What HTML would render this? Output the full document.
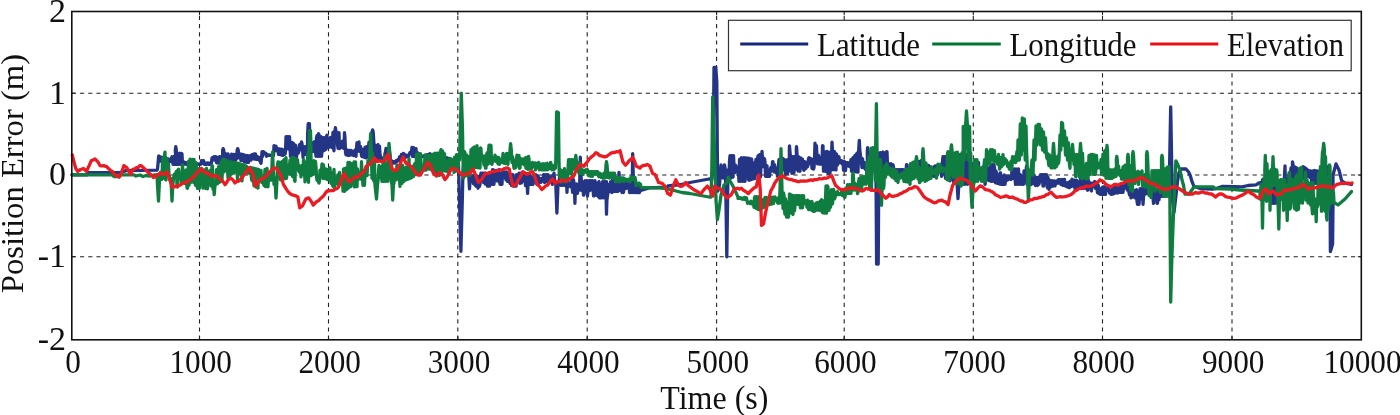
<!DOCTYPE html>
<html><head><meta charset="utf-8"><style>html,body{margin:0;padding:0;background:#fff;width:1400px;height:415px;overflow:hidden}svg{display:block}</style></head>
<body><svg width="1400" height="415" viewBox="0 0 1400 415"><rect x="0" y="0" width="1400" height="415" fill="#fff"/><g stroke="#222" stroke-width="1.1" stroke-dasharray="4.2 4" fill="none"><line x1="199.5" y1="339.8" x2="199.5" y2="11.5"/><line x1="328.5" y1="339.8" x2="328.5" y2="11.5"/><line x1="457.8" y1="339.8" x2="457.8" y2="11.5"/><line x1="587.2" y1="339.8" x2="587.2" y2="11.5"/><line x1="716.6" y1="339.8" x2="716.6" y2="11.5"/><line x1="844.2" y1="339.8" x2="844.2" y2="11.5"/><line x1="973.3" y1="339.8" x2="973.3" y2="11.5"/><line x1="1102.5" y1="339.8" x2="1102.5" y2="11.5"/><line x1="1232.0" y1="339.8" x2="1232.0" y2="11.5"/><line x1="71.8" y1="93.2" x2="1361.3" y2="93.2"/><line x1="71.8" y1="175.0" x2="1361.3" y2="175.0"/><line x1="71.8" y1="256.7" x2="1361.3" y2="256.7"/></g><g stroke="#222" stroke-width="1.1" fill="none"><line x1="199.5" y1="11.5" x2="199.5" y2="15.0"/><line x1="199.5" y1="339.8" x2="199.5" y2="336.3"/><line x1="328.5" y1="11.5" x2="328.5" y2="15.0"/><line x1="328.5" y1="339.8" x2="328.5" y2="336.3"/><line x1="457.8" y1="11.5" x2="457.8" y2="15.0"/><line x1="457.8" y1="339.8" x2="457.8" y2="336.3"/><line x1="587.2" y1="11.5" x2="587.2" y2="15.0"/><line x1="587.2" y1="339.8" x2="587.2" y2="336.3"/><line x1="716.6" y1="11.5" x2="716.6" y2="15.0"/><line x1="716.6" y1="339.8" x2="716.6" y2="336.3"/><line x1="844.2" y1="11.5" x2="844.2" y2="15.0"/><line x1="844.2" y1="339.8" x2="844.2" y2="336.3"/><line x1="973.3" y1="11.5" x2="973.3" y2="15.0"/><line x1="973.3" y1="339.8" x2="973.3" y2="336.3"/><line x1="1102.5" y1="11.5" x2="1102.5" y2="15.0"/><line x1="1102.5" y1="339.8" x2="1102.5" y2="336.3"/><line x1="1232.0" y1="11.5" x2="1232.0" y2="15.0"/><line x1="1232.0" y1="339.8" x2="1232.0" y2="336.3"/><line x1="71.8" y1="93.2" x2="75.3" y2="93.2"/><line x1="1361.3" y1="93.2" x2="1357.8" y2="93.2"/><line x1="71.8" y1="175.0" x2="75.3" y2="175.0"/><line x1="1361.3" y1="175.0" x2="1357.8" y2="175.0"/><line x1="71.8" y1="256.7" x2="75.3" y2="256.7"/><line x1="1361.3" y1="256.7" x2="1357.8" y2="256.7"/></g><g fill="none" stroke-width="3.3" stroke-linejoin="round" stroke-linecap="round"><path d="M72.0 174.8 L87.0 174.8 L88.0 172.6 L120.0 172.6 L126.0 170.6 L157.0 170.2 L157.5 169.3 L158.7 156.0 L159.0 161.4 L159.5 156.7 L160.0 156.9 L160.5 160.9 L161.0 161.1 L161.5 157.2 L162.0 159.6 L162.5 161.7 L163.0 161.8 L163.5 157.7 L164.0 159.1 L164.5 161.5 L165.0 161.1 L165.5 158.4 L166.0 158.7 L166.5 161.4 L167.0 161.7 L167.5 158.9 L168.0 159.1 L168.5 161.7 L169.0 161.4 L169.5 159.4 L170.0 159.7 L170.5 161.5 L171.0 160.7 L171.5 158.2 L172.0 156.7 L172.5 159.4 L173.0 164.3 L173.5 157.5 L174.0 156.5 L174.5 164.3 L175.0 164.3 L175.5 153.7 L175.3 150.0 L175.8 146.7 L176.3 150.0 L177.0 164.3 L177.5 155.5 L178.0 155.5 L178.5 164.3 L179.0 159.3 L179.5 153.2 L180.0 153.7 L180.5 164.3 L181.0 158.4 L181.5 153.5 L182.0 154.0 L182.5 164.3 L183.0 163.1 L183.5 161.7 L184.0 162.9 L184.5 163.7 L185.0 164.3 L185.5 162.5 L186.0 162.8 L186.5 164.3 L187.0 164.3 L187.5 163.2 L188.0 163.8 L188.5 164.3 L189.0 164.2 L189.5 163.8 L190.0 163.9 L190.5 164.2 L191.0 164.1 L191.5 163.8 L192.0 163.8 L192.5 164.0 L193.0 164.1 L193.5 163.9 L194.0 163.7 L194.5 164.1 L195.0 164.2 L195.5 163.7 L196.0 164.0 L196.5 164.2 L197.0 164.3 L197.5 164.0 L198.0 164.0 L198.5 164.3 L199.0 164.1 L199.5 164.0 L200.0 164.0 L200.5 164.3 L201.0 163.4 L201.5 160.7 L202.0 162.0 L202.5 163.4 L203.0 163.4 L203.5 160.7 L204.0 162.0 L204.5 164.3 L205.0 164.3 L205.5 163.1 L206.0 163.1 L206.5 164.3 L207.0 164.3 L207.5 162.9 L208.0 162.9 L208.5 164.3 L209.0 164.3 L209.5 163.1 L210.0 163.0 L210.5 164.3 L211.0 163.9 L211.5 162.7 L212.0 158.0 L212.5 159.9 L213.0 159.5 L213.5 157.8 L214.0 156.7 L214.5 160.1 L215.0 160.1 L215.5 156.7 L216.0 156.7 L216.5 162.7 L217.0 162.9 L217.5 158.2 L218.0 157.6 L218.5 162.3 L219.0 163.1 L219.5 156.7 L220.0 156.7 L220.5 163.1 L221.0 163.0 L221.5 157.5 L222.0 158.2 L222.5 163.3 L222.7 150.0 L223.2 148.6 L223.7 150.0 L225.0 160.6 L225.5 153.7 L226.0 156.9 L226.5 158.1 L227.0 157.5 L227.5 156.3 L228.0 153.9 L228.5 160.6 L229.0 160.6 L229.5 156.8 L230.0 156.6 L230.5 163.0 L231.0 163.0 L231.5 154.2 L232.0 154.3 L232.5 163.3 L233.0 163.1 L233.5 154.3 L234.0 154.4 L234.5 163.3 L235.0 161.9 L235.5 154.5 L236.0 155.0 L236.5 159.0 L237.2 150.0 L237.7 148.6 L238.2 150.0 L239.0 157.8 L239.5 153.7 L240.0 156.7 L240.5 157.4 L241.0 160.7 L241.5 154.2 L242.0 154.4 L242.5 160.4 L243.0 158.7 L243.5 154.7 L244.0 156.5 L244.5 162.0 L245.0 158.6 L245.5 157.0 L246.0 155.4 L246.5 162.3 L247.0 162.3 L247.5 155.7 L248.0 155.7 L248.5 162.3 L249.0 160.3 L249.5 156.0 L250.0 155.8 L250.5 160.1 L251.0 160.2 L251.5 155.9 L252.0 154.7 L252.5 158.5 L253.0 158.5 L253.5 154.2 L254.0 153.9 L254.5 159.2 L255.0 158.4 L255.5 153.8 L256.0 156.9 L256.5 159.5 L257.0 159.2 L257.5 156.6 L258.0 157.1 L258.5 159.7 L259.0 160.0 L259.5 157.5 L260.0 158.1 L260.5 162.2 L261.0 163.3 L261.5 158.7 L262.0 151.7 L262.5 156.3 L263.0 153.9 L263.5 151.7 L264.0 152.3 L264.5 153.5 L265.0 153.6 L265.5 153.2 L266.0 153.5 L266.5 156.3 L267.0 155.3 L267.5 154.7 L268.0 154.8 L268.5 155.3 L269.0 155.3 L269.5 155.0 L270.0 155.2 L270.5 155.3 L271.0 155.3 L271.5 155.3 L272.0 155.4 L272.5 155.4 L273.0 155.5 L273.5 155.5 L274.0 145.7 L274.5 149.9 L275.0 150.4 L275.5 146.1 L276.0 146.3 L276.5 150.7 L277.0 150.9 L277.5 148.4 L278.0 148.9 L278.5 154.3 L279.0 154.3 L279.5 148.9 L280.0 150.3 L280.5 154.8 L281.0 153.4 L281.5 149.1 L282.0 149.5 L282.5 155.3 L283.0 155.3 L283.5 149.8 L284.0 151.3 L284.5 153.5 L285.0 154.2 L285.5 151.4 L286.0 136.7 L286.5 148.3 L287.0 147.7 L287.5 136.7 L288.0 136.7 L288.5 149.0 L289.0 148.1 L289.5 136.7 L290.0 146.8 L290.5 156.3 L291.0 157.3 L291.5 148.3 L292.0 142.5 L292.5 157.3 L293.0 150.0 L293.5 143.4 L294.0 147.0 L294.5 157.3 L295.0 157.3 L295.5 145.1 L296.0 149.2 L296.5 157.3 L297.0 152.7 L297.5 149.7 L298.0 150.5 L298.5 153.0 L299.0 148.9 L299.5 144.7 L300.0 144.4 L300.5 149.0 L301.0 149.8 L301.5 141.9 L302.0 143.6 L302.5 147.6 L303.0 157.3 L303.5 147.4 L304.0 146.7 L304.5 154.0 L305.0 154.3 L305.5 146.7 L306.0 150.8 L306.5 153.6 L307.0 154.3 L307.5 151.5 L307.6 135.0 L308.2 123.6 L309.4 123.6 L309.8 135.0 L310.0 151.4 L310.5 148.6 L311.0 149.4 L311.5 150.6 L312.0 151.4 L312.5 142.7 L313.0 142.7 L313.5 151.4 L314.0 151.4 L314.5 141.6 L315.0 141.6 L315.5 151.4 L316.0 156.3 L316.5 137.7 L317.0 135.7 L317.5 156.3 L318.0 156.3 L318.5 133.7 L319.0 134.7 L319.5 156.3 L320.0 156.3 L320.5 139.6 L321.0 136.7 L321.5 156.3 L322.0 151.3 L322.5 137.7 L323.0 137.7 L323.5 147.1 L324.0 150.5 L324.5 137.7 L325.0 137.7 L325.5 149.8 L326.0 148.9 L326.5 136.5 L327.0 135.2 L327.5 147.5 L328.0 146.6 L328.5 139.0 L329.0 139.7 L329.5 147.2 L330.0 145.0 L330.5 137.4 L331.0 138.0 L331.5 144.9 L332.0 147.5 L332.5 142.7 L333.0 132.3 L333.5 147.5 L334.0 150.8 L334.5 132.5 L335.0 130.0 L335.4 127.7 L335.8 130.0 L338.0 148.3 L338.5 132.7 L339.0 132.7 L339.5 148.6 L340.0 147.9 L340.5 145.1 L341.0 144.0 L341.5 146.9 L342.0 147.4 L342.5 141.2 L343.0 141.1 L343.5 148.1 L344.0 148.5 L344.5 132.7 L345.0 138.2 L345.5 152.6 L346.0 154.7 L346.5 149.7 L347.0 150.1 L347.5 155.1 L348.0 155.4 L348.5 150.4 L349.0 150.7 L349.5 155.3 L350.0 154.3 L350.5 150.3 L351.0 150.4 L351.5 154.8 L352.0 154.3 L352.5 151.4 L353.0 152.0 L353.5 155.5 L354.0 154.9 L354.5 150.7 L355.0 150.1 L355.5 155.3 L356.0 156.3 L356.5 148.2 L357.0 142.7 L357.5 150.5 L358.0 151.0 L358.5 148.2 L359.0 141.9 L359.5 151.4 L360.0 150.2 L360.5 146.4 L361.0 149.7 L361.5 155.5 L362.0 156.6 L362.5 149.4 L363.0 149.8 L363.5 156.9 L364.0 157.2 L364.5 153.3 L365.0 147.3 L365.5 157.5 L366.0 157.8 L366.5 146.7 L367.0 146.7 L367.5 157.0 L368.0 156.2 L368.5 146.7 L369.0 142.3 L369.5 158.3 L370.0 159.3 L370.5 147.2 L371.0 144.0 L371.5 157.9 L372.0 132.0 L372.6 129.9 L373.2 132.0 L375.0 160.3 L375.5 146.5 L376.0 145.6 L376.5 159.5 L377.0 160.2 L377.5 146.3 L378.0 144.6 L378.5 160.6 L379.0 154.3 L379.5 146.2 L380.0 154.1 L380.5 156.9 L381.0 160.2 L381.5 159.1 L382.0 159.1 L382.5 160.0 L383.0 159.9 L383.5 157.7 L384.0 158.4 L384.5 159.6 L385.0 153.2 L385.5 151.7 L386.0 148.5 L386.5 154.9 L387.0 155.7 L387.5 149.3 L388.0 149.6 L388.5 154.1 L389.0 161.1 L389.5 151.2 L390.0 154.7 L390.5 161.8 L391.0 162.6 L391.5 160.5 L392.0 162.4 L392.5 163.3 L393.0 163.3 L393.5 161.7 L394.0 161.7 L394.5 162.7 L395.0 163.0 L395.5 161.7 L396.0 160.8 L396.5 162.1 L397.0 161.1 L397.5 160.5 L398.0 159.6 L398.5 160.2 L399.0 160.5 L399.5 156.8 L400.0 157.9 L400.5 159.8 L401.0 159.1 L401.5 154.4 L402.0 155.9 L402.5 158.3 L403.0 158.0 L403.5 153.5 L404.0 153.7 L404.5 157.7 L405.0 157.1 L405.5 155.2 L406.0 155.1 L406.5 157.0 L407.0 156.7 L407.5 155.4 L408.0 155.2 L408.5 156.3 L409.0 154.8 L409.5 153.5 L410.0 152.6 L410.5 153.0 L411.0 151.9 L411.5 151.5 L412.0 147.5 L412.5 156.3 L413.0 156.3 L413.5 147.6 L414.0 150.1 L414.5 156.3 L415.0 153.0 L415.5 150.5 L416.0 148.7 L416.5 156.3 L417.0 156.3 L417.5 152.7 L418.0 153.9 L418.5 155.1 L419.0 155.5 L419.5 154.2 L420.0 155.1 L420.5 156.3 L421.0 156.1 L421.5 155.9 L422.0 156.5 L422.5 156.5 L423.0 156.3 L423.5 156.3 L424.0 155.9 L424.5 156.3 L425.0 156.1 L425.5 155.9 L426.0 155.2 L426.5 155.9 L427.0 156.3 L427.5 154.8 L428.0 154.6 L428.5 156.3 L429.0 156.3 L429.5 154.0 L430.0 153.7 L430.5 156.3 L431.0 156.3 L431.5 154.7 L432.0 155.9 L432.5 156.3 L433.0 156.5 L433.5 156.5 L434.0 156.7 L434.5 156.7 L435.0 157.0 L435.5 156.9 L436.0 157.1 L436.5 157.2 L437.0 157.5 L437.5 157.3 L438.0 157.6 L438.5 157.8 L439.0 158.0 L439.5 157.8 L440.0 158.0 L440.5 158.1 L441.0 159.0 L441.5 158.2 L442.0 158.4 L442.5 158.8 L443.0 159.3 L443.5 158.4 L444.0 158.5 L444.5 159.4 L445.0 159.6 L445.5 158.9 L446.0 157.8 L446.5 160.0 L447.0 161.0 L447.5 158.0 L448.0 158.2 L448.5 161.3 L449.0 161.4 L449.5 159.5 L450.0 158.5 L450.5 161.5 L451.0 161.6 L451.5 159.7 L452.0 160.2 L452.5 161.9 L453.0 161.7 L453.5 160.7 L454.0 160.7 L454.5 161.6 L455.0 161.8 L455.5 159.7 L456.0 159.5 L456.5 162.0 L457.0 162.2 L457.5 159.7 L458.5 165.0 L460.9 251.3 L462.3 200.0 L463.0 170.0 L464.0 162.1 L464.5 158.2 L465.0 162.5 L465.5 166.4 L466.0 168.9 L466.5 166.7 L467.0 168.3 L467.5 174.3 L468.0 173.1 L468.5 170.2 L469.0 180.4 L469.5 188.8 L470.0 181.6 L470.5 178.1 L471.0 179.2 L471.5 181.7 L472.0 181.5 L472.5 175.3 L473.0 176.3 L473.5 183.6 L474.0 184.0 L474.5 176.7 L475.0 176.7 L475.5 185.5 L476.0 186.0 L476.5 176.1 L477.0 176.4 L477.5 186.3 L478.0 188.2 L478.5 178.3 L479.0 176.5 L479.5 186.4 L480.0 184.1 L480.5 175.6 L481.0 173.2 L481.5 178.3 L482.0 178.5 L482.5 173.2 L483.0 173.1 L483.5 182.5 L484.0 182.7 L484.5 173.1 L485.0 173.0 L485.5 184.2 L486.0 183.7 L486.5 176.1 L487.0 175.8 L487.5 186.2 L488.0 186.2 L488.5 172.8 L489.0 172.8 L489.5 186.2 L490.0 178.8 L490.5 172.7 L491.0 172.7 L491.5 178.8 L492.0 184.3 L492.5 169.7 L493.0 169.7 L493.5 184.3 L494.0 184.3 L494.5 172.5 L495.0 170.5 L495.5 176.6 L496.0 180.7 L496.5 170.5 L497.0 172.1 L497.5 181.0 L498.0 180.2 L498.5 174.2 L499.0 169.7 L499.5 181.0 L500.0 184.3 L500.5 174.6 L501.0 174.9 L501.5 184.3 L502.0 184.3 L502.5 172.6 L503.0 172.2 L503.5 177.2 L504.0 177.1 L504.5 173.8 L505.0 172.0 L505.5 177.5 L506.0 179.9 L506.5 171.9 L507.0 173.9 L507.5 181.3 L508.0 181.3 L508.5 173.8 L509.0 175.9 L509.5 181.3 L510.0 183.4 L510.5 174.7 L511.0 174.7 L511.5 185.5 L512.0 185.0 L512.5 174.7 L513.0 174.7 L513.5 184.2 L514.0 186.2 L514.5 179.1 L515.0 179.9 L515.5 186.2 L516.0 186.2 L516.5 174.7 L517.0 180.3 L517.5 180.7 L518.0 179.6 L518.5 179.3 L519.0 173.2 L519.5 179.8 L520.0 183.4 L520.5 173.2 L521.0 177.7 L521.5 182.9 L522.0 180.4 L522.5 178.5 L523.0 173.2 L523.5 180.7 L524.0 181.0 L524.5 173.2 L525.0 173.9 L525.5 185.6 L526.0 185.0 L526.5 173.3 L527.2 185.0 L527.6 193.3 L528.0 185.0 L529.0 184.3 L529.5 174.7 L530.0 176.9 L530.5 184.3 L531.0 184.3 L531.5 176.8 L532.0 177.5 L532.5 184.3 L533.0 184.3 L533.5 177.2 L534.0 176.8 L534.5 179.2 L535.0 178.6 L535.5 176.3 L536.0 174.7 L536.5 183.2 L537.0 184.3 L537.5 176.3 L538.0 175.9 L538.5 184.3 L539.0 179.9 L539.5 178.8 L540.0 178.4 L540.5 179.5 L541.0 182.3 L541.5 178.6 L542.0 179.2 L542.5 181.0 L543.0 181.0 L543.5 174.7 L544.0 174.7 L544.5 182.3 L545.0 182.3 L545.5 174.7 L546.0 174.7 L546.5 181.3 L547.0 181.3 L547.5 174.7 L548.0 174.7 L548.5 180.3 L549.0 180.4 L549.5 176.8 L550.0 178.1 L550.5 181.8 L551.0 180.9 L551.5 177.3 L552.0 176.0 L552.5 184.3 L553.0 180.2 L553.5 176.5 L554.0 173.2 L554.5 179.4 L555.8 185.0 L556.9 213.0 L558.0 185.0 L559.0 182.4 L559.5 177.7 L560.0 177.7 L560.5 182.2 L561.0 185.3 L561.5 181.4 L562.0 178.3 L562.5 185.3 L563.0 184.7 L563.5 177.7 L564.0 177.7 L564.5 185.3 L565.0 185.3 L565.5 179.2 L566.0 178.5 L566.5 181.9 L567.0 192.3 L567.5 179.7 L568.0 180.8 L568.5 186.1 L569.0 186.1 L569.5 185.0 L570.0 184.2 L570.5 186.8 L571.0 186.3 L571.5 183.7 L572.0 179.7 L572.5 192.3 L573.0 192.3 L573.5 179.7 L574.0 183.3 L574.5 192.3 L574.7 195.0 L574.9 203.3 L575.2 195.0 L576.0 192.3 L576.5 183.9 L577.0 184.8 L577.5 193.4 L578.0 188.6 L578.5 184.9 L579.0 186.4 L579.5 190.1 L580.0 170.0 L580.3 157.2 L580.7 170.0 L582.0 190.6 L582.5 186.4 L583.0 187.1 L583.5 195.2 L584.0 194.1 L584.5 181.3 L585.0 180.7 L585.5 191.6 L586.0 191.5 L586.5 180.7 L587.0 180.7 L587.5 196.2 L588.0 189.6 L588.5 188.1 L589.0 180.7 L589.5 190.7 L590.0 190.5 L590.5 180.7 L591.0 180.7 L591.5 189.4 L592.0 188.5 L592.5 180.7 L593.0 187.1 L593.5 195.8 L594.0 195.9 L594.5 187.0 L595.0 180.7 L595.5 195.1 L596.0 194.0 L596.5 182.9 L597.0 183.5 L597.5 194.7 L598.0 196.2 L598.5 183.7 L599.0 181.7 L599.5 197.9 L600.0 197.9 L600.5 184.6 L601.0 184.8 L601.5 197.9 L602.0 193.2 L602.5 181.7 L603.0 181.7 L603.5 197.9 L604.0 193.4 L604.5 181.7 L605.0 181.7 L605.5 192.5 L606.0 191.4 L606.5 181.7 L606.2 200.0 L606.5 214.1 L606.9 200.0 L608.0 192.3 L608.5 186.6 L609.0 184.3 L609.5 191.7 L610.0 186.5 L610.5 181.9 L611.0 182.7 L611.5 187.2 L612.0 192.5 L612.5 179.7 L613.0 185.0 L613.5 191.5 L614.0 190.7 L614.5 184.2 L615.0 184.9 L615.5 191.4 L616.0 191.3 L616.5 183.0 L617.0 183.1 L617.5 191.4 L618.0 191.3 L618.5 183.0 L618.8 178.0 L619.0 172.5 L619.3 178.0 L620.0 190.3 L620.5 182.0 L621.0 179.7 L621.5 190.2 L622.0 192.5 L622.5 179.7 L623.0 182.2 L623.5 192.5 L624.0 185.3 L624.5 182.0 L625.0 183.0 L625.5 188.7 L626.0 186.0 L626.5 179.7 L627.0 179.7 L627.5 186.9 L628.0 188.3 L628.5 179.7 L629.0 179.7 L629.5 192.5 L630.0 192.5 L630.5 181.4 L631.0 181.4 L631.5 189.4 L632.0 192.5 L632.5 181.4 L632.4 170.0 L632.7 153.6 L633.1 170.0 L634.0 192.5 L634.5 188.4 L635.0 188.3 L635.5 192.5 L636.0 192.5 L636.5 188.3 L637.0 187.5 L637.5 192.5 L638.0 192.5 L638.5 187.1 L639.0 187.2 L639.5 192.5 L640.0 190.6 L649.0 187.9 L660.0 187.5 L667.0 187.5 L668.0 186.0 L682.0 184.3 L690.0 182.5 L709.0 179.0 L712.0 178.9 L713.2 160.0 L714.0 67.5 L715.8 67.5 L716.8 82.0 L717.3 150.0 L717.8 191.0 L719.5 185.0 L721.0 165.0 L723.0 178.0 L724.5 165.0 L725.5 170.0 L726.8 256.8 L728.0 170.0 L729.0 175.0 L729.5 161.2 L730.0 155.7 L730.5 173.6 L731.0 178.0 L731.5 155.7 L732.0 155.7 L732.5 177.0 L733.0 177.1 L733.5 155.7 L734.0 165.0 L734.5 172.7 L735.0 172.7 L735.5 165.1 L736.0 166.8 L736.5 171.5 L737.0 171.9 L737.5 167.3 L738.0 169.4 L738.5 174.1 L739.0 181.3 L739.5 159.5 L740.0 159.1 L740.5 181.3 L741.0 178.3 L741.5 157.7 L742.0 165.0 L742.5 181.3 L743.0 181.3 L743.5 165.5 L744.0 157.7 L744.5 181.3 L745.0 181.3 L745.5 169.3 L746.0 157.8 L746.5 175.1 L747.0 174.9 L747.5 158.1 L748.0 158.2 L748.5 179.8 L749.0 180.2 L749.5 158.5 L750.0 158.7 L750.5 179.8 L751.0 179.5 L751.5 158.8 L752.0 162.6 L752.5 179.2 L753.0 176.9 L753.5 163.2 L754.0 163.3 L754.5 178.7 L755.0 178.3 L755.5 163.3 L756.0 159.3 L756.5 169.3 L757.0 173.7 L757.5 159.1 L758.0 155.9 L758.5 173.7 L759.0 174.8 L759.5 154.7 L760.0 154.7 L760.5 176.8 L761.0 166.5 L761.5 157.8 L761.8 155.0 L762.0 151.3 L762.3 155.0 L764.0 166.9 L764.5 158.7 L765.0 162.2 L765.5 176.3 L766.0 176.3 L766.5 167.1 L767.0 165.7 L767.5 176.3 L768.0 176.3 L768.5 170.3 L769.0 170.6 L769.5 176.3 L770.0 172.0 L770.5 168.7 L771.0 167.5 L771.5 170.8 L772.0 170.5 L772.5 161.7 L773.0 161.7 L773.5 169.3 L774.0 171.9 L774.5 164.7 L775.0 167.5 L775.5 172.2 L776.0 172.6 L776.5 171.5 L777.0 171.2 L777.5 176.3 L778.0 172.3 L778.5 164.7 L779.0 159.7 L779.5 170.3 L780.0 176.0 L780.5 159.2 L781.0 158.7 L781.5 168.6 L782.0 169.1 L782.5 158.2 L783.0 158.6 L783.5 169.8 L784.0 168.3 L784.5 159.7 L785.0 167.1 L785.5 174.3 L786.0 174.0 L786.5 165.0 L787.0 160.0 L787.5 173.7 L788.0 170.3 L788.5 164.1 L789.0 158.5 L789.5 170.9 L789.3 150.0 L789.5 145.8 L789.8 150.0 L792.0 173.3 L792.5 156.7 L793.0 156.7 L793.5 173.1 L794.0 172.8 L794.5 156.7 L795.0 156.7 L795.5 169.1 L796.0 168.9 L796.5 156.7 L796.3 150.0 L796.5 146.7 L796.8 150.0 L798.0 171.0 L798.5 156.7 L799.0 157.2 L799.5 169.9 L800.0 171.3 L800.5 157.8 L801.0 158.5 L801.5 165.1 L802.0 165.8 L802.5 159.1 L803.0 163.7 L803.5 169.2 L804.0 170.3 L804.5 163.3 L805.0 161.7 L805.5 168.6 L806.0 168.3 L806.5 163.1 L807.0 162.1 L807.5 166.7 L808.0 165.0 L808.5 158.8 L809.0 157.7 L809.5 163.3 L810.0 160.8 L810.5 158.4 L811.0 159.3 L811.5 161.8 L812.0 168.3 L812.5 159.3 L813.0 160.0 L813.5 169.2 L814.0 167.6 L814.5 160.4 L814.8 150.0 L815.0 143.1 L815.3 150.0 L816.0 162.6 L816.5 145.7 L817.0 159.3 L817.5 163.8 L818.0 163.9 L818.5 155.4 L819.0 157.8 L819.5 164.0 L820.0 164.0 L820.5 157.9 L821.0 158.0 L821.5 164.1 L822.0 164.2 L822.5 145.7 L823.0 146.0 L823.5 171.2 L824.0 170.1 L824.5 151.6 L825.0 156.3 L825.5 171.3 L826.0 171.3 L826.5 151.7 L827.0 151.4 L827.5 166.1 L828.0 173.3 L828.5 153.0 L829.0 152.2 L829.5 173.3 L830.0 173.3 L830.5 153.0 L831.0 151.9 L831.5 169.9 L831.8 148.0 L832.0 142.2 L832.3 148.0 L834.0 169.6 L834.5 151.7 L835.0 153.4 L835.5 169.5 L836.0 169.8 L836.5 154.2 L837.0 156.5 L837.5 164.9 L838.0 163.0 L838.5 156.7 L839.0 157.0 L839.5 162.3 L840.0 162.6 L840.5 162.0 L841.0 160.6 L841.5 162.4 L842.0 163.8 L842.5 161.2 L843.0 161.3 L843.5 170.2 L844.0 170.3 L844.5 161.7 L845.0 163.2 L845.5 170.5 L846.0 164.9 L846.5 162.7 L847.0 162.6 L847.5 165.6 L848.0 165.8 L848.5 162.8 L849.0 163.1 L849.5 166.5 L850.0 166.4 L850.5 163.1 L851.0 159.7 L851.5 171.3 L852.0 171.3 L852.5 158.7 L853.0 157.7 L853.5 171.3 L854.0 171.3 L854.5 156.7 L855.0 155.5 L855.5 171.6 L856.0 171.8 L856.5 154.4 L857.0 153.3 L857.5 169.9 L858.0 172.2 L858.5 153.6 L858.8 148.0 L859.3 140.4 L859.8 150.0 L862.0 167.6 L862.5 158.7 L863.0 162.3 L863.5 166.5 L864.0 167.9 L864.5 162.7 L865.0 163.6 L865.5 169.3 L866.0 169.3 L866.5 163.2 L867.0 163.0 L867.5 166.3 L867.3 152.0 L867.6 147.7 L867.9 152.0 L870.0 170.3 L870.5 153.7 L871.0 163.1 L871.5 170.3 L872.0 169.2 L872.5 161.7 L873.0 163.1 L873.5 170.0 L874.0 169.0 L874.5 162.4 L875.0 156.1 L875.5 170.0 L876.0 175.0 L876.6 264.0 L878.2 264.0 L878.8 175.0 L878.0 169.2 L878.5 154.8 L879.0 152.9 L879.5 167.3 L880.0 169.1 L880.5 153.8 L881.0 152.8 L881.5 168.0 L882.0 168.1 L882.5 152.9 L883.0 152.1 L883.5 167.4 L884.0 167.1 L884.5 156.3 L885.0 152.8 L885.5 167.0 L886.0 166.4 L886.5 151.7 L887.0 151.7 L887.5 165.8 L888.0 170.3 L888.5 163.7 L889.0 163.7 L889.5 168.8 L890.0 168.8 L890.5 164.1 L891.0 163.8 L891.5 168.5 L892.0 168.8 L892.5 166.1 L893.0 164.7 L893.5 167.0 L894.0 171.3 L894.5 169.7 L895.0 169.7 L895.5 173.1 L896.0 173.2 L896.5 169.7 L897.0 170.4 L897.5 173.3 L898.0 171.8 L898.5 169.7 L899.0 169.7 L899.5 173.3 L900.0 173.3 L900.5 169.8 L901.0 169.7 L901.5 172.2 L902.0 173.3 L902.5 169.7 L903.0 169.7 L903.5 172.9 L904.0 173.3 L904.5 170.0 L905.0 169.9 L905.5 173.3 L906.0 172.3 L906.5 164.7 L907.0 164.7 L907.5 171.6 L908.0 171.8 L908.5 169.0 L909.0 168.5 L909.5 173.3 L910.0 169.5 L910.5 166.5 L911.0 167.5 L911.5 169.5 L912.0 169.8 L912.5 164.7 L913.0 164.7 L913.5 173.2 L914.0 171.7 L914.5 162.5 L915.0 165.1 L915.5 173.2 L916.0 169.0 L916.5 165.5 L917.0 162.3 L917.5 169.4 L918.0 169.7 L918.5 162.0 L919.0 161.4 L919.5 173.6 L920.0 173.8 L920.5 161.6 L921.0 160.7 L921.5 173.3 L922.0 169.8 L922.5 160.7 L923.0 161.1 L923.5 170.5 L924.0 170.2 L924.5 165.9 L925.0 166.1 L925.5 168.6 L926.0 168.6 L926.5 167.2 L927.0 166.9 L927.5 168.3 L928.0 176.3 L928.5 165.5 L929.0 166.9 L929.5 176.3 L930.0 176.3 L930.5 167.0 L931.0 168.0 L931.5 175.9 L932.0 175.8 L932.5 167.9 L933.0 167.7 L933.5 175.6 L934.0 176.3 L934.5 166.6 L935.0 166.0 L935.5 176.3 L936.0 171.8 L936.5 165.7 L937.0 166.0 L937.5 174.7 L938.0 170.7 L938.5 168.1 L939.0 167.9 L939.5 171.5 L940.0 170.9 L940.5 165.5 L941.0 164.9 L941.5 176.3 L942.0 175.2 L942.5 161.5 L943.0 156.7 L943.5 166.7 L944.0 167.7 L944.5 156.7 L945.0 156.7 L945.5 178.3 L946.0 178.3 L946.5 156.7 L947.0 156.7 L947.5 165.3 L948.0 171.2 L948.5 161.7 L949.0 161.7 L949.5 179.9 L950.0 180.8 L950.5 161.7 L951.0 161.7 L951.5 171.3 L952.0 171.4 L952.5 170.1 L953.0 170.3 L953.5 181.6 L954.0 172.3 L954.5 170.4 L955.0 169.7 L955.5 171.6 L956.0 177.0 L956.5 170.0 L957.0 182.0 L958.0 198.6 L959.0 182.0 L959.5 171.0 L960.0 154.7 L960.5 154.7 L961.0 168.3 L961.5 184.3 L962.0 154.7 L962.5 154.7 L963.0 184.3 L963.5 184.3 L964.0 154.7 L964.5 154.7 L965.0 184.3 L965.5 172.0 L966.0 154.7 L966.5 162.4 L967.0 170.2 L967.5 184.3 L968.0 162.7 L968.5 164.6 L969.0 175.2 L969.5 178.0 L970.0 167.4 L970.5 172.7 L971.0 177.4 L971.5 180.2 L972.0 163.6 L972.5 164.6 L973.0 184.3 L973.5 184.3 L974.0 163.4 L974.5 165.6 L975.0 174.4 L975.5 177.1 L976.0 165.8 L976.5 162.9 L977.0 176.8 L977.5 175.6 L978.0 162.7 L978.5 162.6 L979.0 178.0 L979.5 177.2 L980.0 171.9 L980.5 173.9 L981.0 180.2 L981.5 178.8 L982.0 172.5 L982.5 172.4 L983.0 177.3 L983.5 174.5 L984.0 169.7 L984.5 161.7 L985.0 184.3 L985.5 182.0 L986.0 163.2 L986.5 164.7 L987.0 179.6 L987.5 179.3 L988.0 168.2 L988.5 169.6 L989.0 180.7 L989.5 179.7 L990.0 169.8 L990.5 164.7 L991.0 181.3 L991.5 181.3 L992.0 164.7 L992.5 164.7 L993.0 181.3 L993.5 181.3 L994.0 164.7 L994.5 168.1 L995.0 181.3 L995.5 182.8 L996.0 171.0 L996.5 173.7 L997.0 176.6 L997.5 183.4 L998.0 175.3 L998.5 175.1 L999.0 183.9 L999.5 184.0 L1000.0 172.9 L1000.5 172.8 L1001.0 184.3 L1001.5 184.3 L1002.0 176.1 L1002.5 176.3 L1003.0 184.3 L1003.5 184.3 L1004.0 177.2 L1004.5 175.0 L1005.0 184.3 L1005.5 180.2 L1006.0 176.9 L1006.5 176.1 L1007.0 179.4 L1007.5 180.1 L1008.0 176.8 L1008.5 176.2 L1009.0 177.5 L1009.5 179.0 L1010.0 177.6 L1010.5 178.1 L1011.0 179.5 L1011.5 178.6 L1012.0 169.1 L1012.5 169.1 L1013.0 178.4 L1013.5 177.6 L1014.0 170.7 L1014.5 169.0 L1015.0 177.9 L1015.5 184.3 L1016.0 169.0 L1016.5 172.6 L1017.0 184.3 L1017.5 178.0 L1018.0 173.1 L1018.5 168.8 L1019.0 184.3 L1019.5 177.7 L1020.0 174.4 L1020.5 174.9 L1021.0 184.3 L1021.5 179.5 L1022.0 177.3 L1022.5 177.2 L1023.0 184.3 L1023.5 184.3 L1024.0 170.8 L1024.5 172.3 L1025.0 181.0 L1025.5 181.5 L1026.0 172.8 L1026.5 166.2 L1027.0 184.3 L1027.5 178.5 L1028.0 176.4 L1028.5 176.3 L1029.0 178.4 L1029.5 178.5 L1030.0 176.4 L1030.5 177.0 L1031.0 184.5 L1031.5 178.3 L1032.0 169.7 L1032.5 171.7 L1033.0 183.7 L1033.5 180.1 L1034.0 175.0 L1034.5 179.2 L1035.0 181.9 L1035.5 185.5 L1036.0 177.5 L1036.5 177.4 L1037.0 185.0 L1037.5 185.4 L1038.0 177.8 L1038.5 177.2 L1039.0 184.2 L1039.5 181.6 L1040.0 180.0 L1040.5 174.7 L1041.0 181.6 L1041.5 180.4 L1042.0 174.7 L1042.5 174.7 L1043.0 185.9 L1043.5 186.1 L1044.0 174.7 L1044.5 174.7 L1045.0 181.7 L1045.5 182.7 L1046.0 174.7 L1046.5 174.7 L1047.0 186.3 L1047.5 187.8 L1048.0 177.5 L1048.5 180.3 L1049.0 189.3 L1049.5 185.4 L1050.0 180.3 L1050.5 181.2 L1051.0 186.9 L1051.5 185.6 L1052.0 180.6 L1052.5 181.1 L1053.0 186.1 L1053.5 186.0 L1054.0 181.0 L1054.5 183.0 L1055.0 185.9 L1055.5 183.1 L1056.0 181.3 L1056.5 182.1 L1057.0 183.3 L1057.5 183.0 L1058.0 179.8 L1058.5 179.7 L1059.0 183.0 L1059.5 182.9 L1060.0 179.7 L1060.5 179.6 L1061.0 184.7 L1061.5 184.7 L1062.0 179.6 L1062.5 179.5 L1063.0 185.3 L1063.5 185.0 L1064.0 179.5 L1064.5 179.4 L1065.0 185.6 L1065.5 186.1 L1066.0 183.5 L1066.5 183.2 L1067.0 185.8 L1067.5 187.0 L1068.0 182.7 L1068.5 183.3 L1069.0 187.5 L1069.5 187.7 L1070.0 181.5 L1070.5 181.2 L1071.0 186.7 L1071.5 186.4 L1072.0 179.1 L1072.5 182.2 L1073.0 186.1 L1073.5 186.2 L1074.0 182.7 L1074.5 180.1 L1075.0 189.0 L1075.5 189.3 L1076.0 180.7 L1076.5 180.2 L1077.0 189.3 L1077.5 189.3 L1078.0 182.1 L1078.5 182.1 L1079.0 185.9 L1079.5 185.8 L1080.0 181.5 L1080.5 178.8 L1081.0 188.5 L1081.5 186.0 L1082.0 181.2 L1082.5 179.8 L1083.0 184.5 L1083.5 188.5 L1084.0 179.3 L1084.5 179.6 L1085.0 187.3 L1085.5 188.1 L1086.0 179.8 L1086.5 183.2 L1087.0 188.9 L1087.5 190.3 L1088.0 181.8 L1088.5 180.3 L1089.0 187.8 L1089.5 185.0 L1090.0 183.6 L1090.5 182.9 L1091.0 190.4 L1091.5 190.9 L1092.0 183.4 L1092.5 183.6 L1093.0 186.1 L1093.5 186.6 L1094.0 182.7 L1094.5 181.6 L1095.0 187.0 L1095.5 188.3 L1096.0 182.2 L1096.5 183.2 L1097.0 188.8 L1097.5 192.8 L1098.0 184.6 L1098.5 187.5 L1099.0 193.4 L1099.5 194.0 L1100.0 188.8 L1100.5 188.9 L1101.0 194.3 L1101.5 194.3 L1102.0 187.8 L1102.5 187.2 L1103.0 194.3 L1103.5 194.3 L1104.0 186.7 L1104.5 187.1 L1105.0 194.3 L1105.5 194.3 L1106.0 188.9 L1106.5 188.5 L1107.0 190.0 L1107.5 190.2 L1108.0 186.7 L1108.5 189.9 L1109.0 190.1 L1109.5 193.1 L1110.0 190.5 L1110.5 190.8 L1111.0 194.3 L1111.5 194.3 L1112.0 189.6 L1112.5 186.7 L1113.0 194.2 L1113.5 193.9 L1114.0 186.7 L1114.5 186.7 L1115.0 193.0 L1115.5 191.0 L1116.0 186.7 L1116.5 188.0 L1117.0 191.0 L1117.5 193.1 L1118.0 188.8 L1118.5 187.9 L1119.0 190.3 L1119.5 192.3 L1120.0 186.4 L1120.5 185.9 L1121.0 192.3 L1121.5 192.3 L1122.0 185.7 L1122.5 186.1 L1123.0 192.3 L1123.5 187.9 L1124.0 185.8 L1124.5 186.6 L1125.0 188.0 L1125.5 188.0 L1126.0 183.2 L1126.5 183.2 L1127.0 187.3 L1127.5 190.2 L1128.0 187.7 L1128.5 186.8 L1129.0 192.7 L1129.5 194.9 L1130.0 191.7 L1130.5 192.7 L1131.0 197.9 L1131.5 196.5 L1132.0 192.0 L1132.5 192.3 L1133.0 196.8 L1133.5 195.0 L1134.0 190.5 L1134.5 191.8 L1135.0 197.9 L1135.5 197.9 L1136.0 190.8 L1136.5 189.8 L1137.0 201.2 L1137.5 204.3 L1138.0 192.4 L1138.5 195.1 L1139.0 204.3 L1139.5 197.3 L1140.0 188.7 L1140.5 188.7 L1141.0 197.9 L1141.5 198.7 L1142.0 188.7 L1142.5 188.7 L1143.0 204.3 L1143.5 197.1 L1144.0 187.0 L1144.5 185.1 L1145.0 193.0 L1145.5 194.0 L1146.0 189.8 L1146.5 188.9 L1147.0 193.4 L1147.5 193.3 L1148.0 188.5 L1148.5 187.2 L1149.0 193.1 L1149.5 194.0 L1150.0 188.1 L1150.5 188.1 L1151.0 194.0 L1151.5 193.9 L1152.0 188.8 L1152.5 187.0 L1153.0 196.7 L1153.5 203.3 L1154.0 191.1 L1154.5 190.0 L1155.0 198.1 L1155.5 198.2 L1156.0 190.2 L1156.5 189.9 L1157.0 203.3 L1157.5 203.3 L1158.0 189.5 L1158.5 190.5 L1159.0 199.8 L1159.5 191.7 L1160.0 188.1 L1160.5 189.7 L1161.0 194.0 L1161.5 196.3 L1162.0 186.7 L1162.5 191.1 L1163.0 196.3 L1163.5 194.8 L1164.0 190.5 L1164.5 191.0 L1165.0 196.3 L1165.5 193.7 L1166.0 190.8 L1166.5 189.7 L1167.0 193.4 L1167.5 193.2 L1168.0 189.4 L1169.5 170.0 L1170.7 106.8 L1171.8 170.0 L1172.5 200.0 L1174.0 212.3 L1176.0 195.0 L1177.5 181.6 L1179.0 172.5 L1181.3 168.9 L1186.0 169.0 L1188.6 172.0 L1190.4 176.0 L1192.0 181.6 L1194.0 186.5 L1196.0 187.0 L1200.0 188.5 L1212.0 189.0 L1216.0 188.5 L1222.0 186.5 L1235.0 186.7 L1242.0 186.8 L1248.0 185.5 L1256.0 184.8 L1259.0 183.0 L1261.0 182.7 L1262.0 188.1 L1262.5 179.7 L1263.0 185.5 L1263.5 199.0 L1264.0 199.6 L1264.5 187.2 L1265.0 189.8 L1265.5 193.8 L1266.0 190.9 L1266.5 189.7 L1267.0 180.9 L1267.5 189.8 L1268.0 195.3 L1268.5 181.2 L1269.0 181.4 L1269.5 193.1 L1270.0 193.5 L1270.5 181.7 L1271.0 189.0 L1271.5 195.0 L1272.0 203.3 L1272.5 188.9 L1273.0 189.2 L1273.5 203.3 L1274.0 203.3 L1274.5 182.0 L1275.0 187.7 L1275.5 199.1 L1276.0 203.2 L1276.5 182.6 L1277.0 180.2 L1277.5 203.3 L1278.0 190.9 L1278.5 183.9 L1279.0 185.3 L1279.5 192.2 L1280.0 191.2 L1280.5 184.3 L1281.0 186.3 L1281.5 190.5 L1282.0 199.1 L1282.5 184.4 L1283.0 181.6 L1283.5 196.3 L1284.0 198.3 L1284.5 175.6 L1285.0 165.8 L1285.5 195.8 L1286.0 193.3 L1286.5 180.1 L1287.0 178.7 L1287.5 190.8 L1288.0 188.3 L1288.5 177.5 L1289.0 174.8 L1289.5 182.3 L1290.0 181.4 L1290.5 174.0 L1291.0 167.8 L1291.5 177.5 L1292.0 182.3 L1292.5 162.0 L1293.0 164.3 L1293.5 181.3 L1294.0 180.3 L1294.5 166.7 L1295.0 167.2 L1295.5 179.7 L1296.0 178.3 L1296.5 167.8 L1297.0 169.7 L1297.5 180.3 L1298.0 179.3 L1298.5 170.1 L1299.0 174.1 L1299.5 180.3 L1300.0 175.1 L1300.5 169.5 L1301.0 168.2 L1301.5 179.3 L1302.0 174.2 L1302.5 167.4 L1303.0 166.7 L1303.5 174.9 L1304.0 178.8 L1304.5 167.4 L1305.0 168.2 L1305.5 179.3 L1306.0 176.7 L1306.5 168.9 L1307.0 169.7 L1307.5 175.5 L1308.0 176.3 L1308.5 170.4 L1309.0 171.4 L1309.5 177.2 L1310.0 177.4 L1310.5 170.8 L1311.0 171.2 L1311.5 181.2 L1312.0 180.6 L1312.5 171.7 L1313.0 171.0 L1313.5 182.3 L1314.0 183.3 L1314.5 170.3 L1315.0 171.4 L1315.5 177.4 L1316.0 183.3 L1316.5 170.8 L1317.0 171.0 L1317.5 183.3 L1318.0 183.3 L1318.5 171.2 L1319.0 171.4 L1319.5 183.3 L1320.0 183.3 L1320.5 171.7 L1321.0 170.7 L1321.5 182.4 L1322.0 181.5 L1322.5 169.7 L1323.0 175.9 L1323.5 182.2 L1324.0 181.8 L1324.5 176.8 L1325.0 175.9 L1325.5 181.3 L1326.0 181.3 L1326.5 166.4 L1327.0 168.5 L1327.5 181.3 L1328.0 177.3 L1328.5 168.4 L1329.0 167.3 L1329.5 181.3 L1330.0 190.0 L1330.4 251.5 L1332.6 244.0 L1333.0 205.0 L1333.0 175.0 L1336.0 163.9 L1339.0 170.0 L1341.7 180.8 L1345.0 183.2 L1351.5 184.5" stroke="#253586"/><path d="M72.0 174.8 L112.0 174.8 L114.0 176.5 L118.0 176.5 L120.0 174.8 L134.0 174.8 L136.0 176.0 L140.0 175.0 L143.0 176.5 L146.0 175.5 L150.0 176.0 L154.0 175.0 L157.0 175.0 L157.5 185.0 L158.5 201.0 L159.5 180.0 L160.0 179.1 L160.5 172.1 L161.0 172.8 L161.5 176.9 L162.0 179.3 L162.5 161.7 L163.0 157.7 L163.5 178.2 L164.0 175.7 L164.5 154.5 L165.0 152.2 L165.5 179.3 L166.0 180.0 L166.5 160.8 L167.0 158.3 L167.5 171.0 L168.0 174.4 L168.5 163.7 L169.0 175.3 L169.5 177.5 L170.0 180.0 L170.5 178.2 L171.2 185.0 L172.0 201.0 L172.8 185.0 L173.5 178.0 L174.0 176.2 L174.5 174.2 L175.0 175.9 L175.5 173.9 L176.0 172.1 L176.5 171.2 L177.0 186.6 L177.5 187.0 L178.0 170.3 L178.5 169.3 L179.0 178.6 L179.5 177.9 L180.0 173.6 L180.5 173.9 L181.0 178.3 L181.5 183.7 L182.0 172.6 L182.5 164.9 L183.0 175.0 L183.5 177.0 L184.0 172.8 L184.5 172.8 L185.0 183.5 L185.5 180.6 L186.0 169.8 L186.5 173.8 L187.0 188.0 L187.5 188.2 L188.0 175.5 L188.5 161.4 L189.0 185.3 L189.5 182.3 L190.0 159.2 L190.5 159.3 L191.0 182.3 L191.5 178.1 L192.0 159.4 L192.5 159.4 L193.0 177.8 L193.5 182.3 L194.0 159.5 L194.5 166.9 L195.0 182.3 L195.5 185.3 L196.0 162.7 L196.5 171.0 L197.0 182.4 L197.5 188.3 L198.0 170.0 L198.5 168.8 L199.0 188.3 L199.5 188.3 L200.0 168.3 L200.5 170.1 L201.0 178.0 L201.5 179.4 L202.0 170.1 L202.5 171.5 L203.0 188.2 L203.5 186.9 L204.0 170.1 L204.5 171.6 L205.0 187.7 L205.5 188.4 L206.0 168.8 L206.5 168.3 L207.0 188.7 L207.5 188.8 L208.0 171.3 L208.5 171.4 L209.0 178.4 L209.5 178.5 L210.0 171.4 L210.5 170.3 L211.0 185.9 L211.5 186.1 L212.0 165.7 L212.5 166.0 L213.0 189.3 L213.5 185.0 L214.2 194.6 L215.0 185.0 L216.0 184.3 L216.5 169.7 L217.0 172.0 L217.5 183.7 L218.0 183.0 L218.5 166.7 L219.0 171.7 L219.5 182.3 L220.0 181.7 L220.5 170.4 L221.0 161.9 L221.5 181.0 L222.0 180.3 L222.5 160.3 L223.0 159.1 L223.5 171.6 L224.0 171.8 L224.5 159.5 L225.0 159.9 L225.5 170.5 L226.0 168.7 L226.5 164.4 L227.0 160.8 L227.5 168.4 L228.0 177.9 L228.5 161.2 L229.0 165.7 L229.5 178.3 L230.0 174.0 L230.5 166.8 L231.0 162.0 L231.5 174.0 L232.0 173.4 L232.5 165.1 L233.0 162.4 L233.5 173.2 L234.0 173.2 L234.5 162.6 L235.0 168.7 L235.5 171.0 L236.0 169.8 L236.5 162.9 L237.0 163.1 L237.5 180.9 L238.0 170.4 L238.5 163.3 L239.0 163.5 L239.5 170.5 L240.0 173.7 L240.5 167.8 L241.0 164.1 L241.5 172.5 L242.0 180.9 L242.5 164.5 L243.0 164.9 L243.5 171.7 L244.0 172.1 L244.5 165.4 L245.0 165.8 L245.5 171.7 L246.0 173.2 L246.5 166.2 L247.0 170.6 L247.5 172.4 L248.0 173.1 L248.5 171.3 L249.0 171.3 L249.5 173.1 L250.0 173.4 L250.5 167.4 L251.0 173.1 L251.5 178.8 L252.0 180.5 L252.5 167.9 L253.0 168.2 L253.5 180.7 L254.0 185.8 L254.5 168.4 L255.0 168.7 L255.5 186.3 L256.0 186.9 L256.5 168.9 L257.0 169.2 L257.5 187.5 L258.0 188.1 L258.5 169.5 L259.0 169.8 L259.5 180.1 L260.0 179.6 L260.5 171.6 L261.0 170.4 L261.5 182.0 L262.0 182.5 L262.5 177.6 L263.0 178.2 L263.5 183.1 L264.0 185.5 L264.5 178.2 L265.0 169.3 L265.5 186.7 L266.0 185.7 L266.5 180.4 L267.0 168.4 L267.5 186.0 L268.0 186.7 L268.5 178.1 L269.0 176.7 L269.5 180.5 L270.0 178.7 L270.5 175.0 L271.0 175.9 L271.5 180.0 L272.0 165.0 L272.6 151.8 L273.3 170.0 L274.0 184.3 L274.5 177.3 L275.0 180.0 L276.0 198.0 L277.0 180.0 L277.0 181.3 L277.5 165.1 L278.0 161.9 L278.5 173.8 L279.0 174.4 L279.5 162.2 L280.0 162.6 L280.5 179.8 L281.0 177.6 L281.5 162.7 L282.0 161.7 L282.5 176.2 L283.0 175.1 L283.5 160.7 L284.0 159.7 L284.5 178.8 L285.0 178.5 L285.5 158.7 L286.0 157.7 L286.5 178.3 L287.0 171.9 L287.5 165.2 L288.0 169.0 L288.5 172.7 L289.0 173.2 L289.5 165.8 L290.0 160.2 L290.5 174.4 L291.0 174.4 L291.5 160.2 L292.0 157.7 L292.5 176.5 L293.0 175.7 L293.5 157.7 L294.0 158.2 L294.5 180.1 L295.0 181.3 L295.5 158.7 L296.0 159.2 L296.5 168.7 L297.0 169.6 L297.5 159.7 L298.0 164.8 L298.5 169.7 L299.0 171.8 L299.5 166.9 L300.0 166.1 L300.5 171.0 L301.0 176.9 L301.5 165.6 L302.0 168.9 L302.5 174.1 L303.0 173.7 L303.5 159.7 L304.0 169.7 L304.5 171.3 L305.0 181.8 L305.5 166.7 L306.0 161.8 L306.5 179.3 L307.0 176.6 L307.5 156.8 L308.0 153.7 L308.5 182.3 L309.0 150.0 L309.5 130.6 L310.5 130.6 L311.0 150.0 L311.0 175.7 L311.5 163.3 L312.0 161.2 L312.5 173.6 L313.0 174.4 L313.5 162.0 L314.0 160.8 L314.5 173.2 L315.0 173.7 L315.5 161.3 L316.0 167.2 L316.5 175.8 L317.0 180.3 L317.5 178.6 L318.0 180.2 L318.5 181.9 L319.0 183.1 L319.5 181.0 L320.0 170.2 L320.5 176.2 L321.0 173.6 L321.5 170.0 L322.0 163.9 L322.5 171.8 L323.0 178.3 L323.5 165.0 L324.0 170.8 L324.5 178.3 L325.0 178.3 L325.5 169.5 L326.0 169.1 L326.5 178.8 L327.0 179.3 L327.5 169.6 L328.0 170.4 L328.5 179.8 L329.0 178.7 L329.5 167.7 L330.0 168.1 L330.5 179.9 L331.0 183.3 L331.5 172.7 L332.0 173.4 L332.5 184.8 L333.0 186.3 L333.5 176.4 L334.0 169.3 L334.5 187.8 L335.0 182.5 L335.5 180.8 L336.0 177.8 L336.5 183.6 L337.0 183.5 L337.5 177.6 L338.0 174.7 L338.5 185.0 L339.0 184.2 L339.5 172.5 L340.0 179.0 L340.5 182.7 L341.0 182.6 L341.5 178.8 L342.0 176.3 L342.5 180.0 L343.0 191.2 L343.5 169.2 L344.0 168.7 L344.5 191.3 L345.0 190.5 L345.5 168.2 L346.0 175.1 L346.5 189.7 L347.0 188.8 L347.5 173.7 L348.0 162.3 L348.5 188.0 L349.0 187.2 L349.5 162.5 L350.0 164.2 L350.5 186.3 L351.0 186.5 L351.5 163.6 L352.0 170.2 L352.5 179.1 L353.0 183.7 L353.5 172.8 L354.0 162.0 L354.5 186.9 L355.0 186.6 L355.5 161.8 L356.0 171.5 L356.5 186.7 L357.0 186.7 L357.5 168.9 L358.0 174.4 L358.5 179.0 L359.0 179.0 L359.5 174.4 L360.0 172.1 L360.5 179.0 L361.0 178.5 L361.5 161.7 L362.0 173.8 L362.5 178.2 L363.0 185.3 L363.5 172.1 L364.0 171.0 L364.5 185.3 L365.0 173.9 L365.5 169.7 L366.0 166.7 L366.5 175.5 L367.0 175.6 L367.5 166.7 L368.0 160.7 L368.5 163.9 L369.0 163.9 L369.5 160.8 L370.0 150.0 L370.6 133.6 L371.3 150.0 L372.0 178.3 L372.5 152.7 L373.0 166.4 L373.5 179.8 L374.0 181.3 L374.5 161.7 L375.0 185.0 L376.5 199.0 L377.5 185.0 L378.0 181.3 L378.5 171.9 L379.0 165.4 L379.5 177.8 L380.0 176.3 L380.5 172.3 L381.0 166.9 L381.5 173.7 L382.0 181.3 L382.5 167.9 L383.0 163.8 L383.5 181.3 L384.0 181.3 L384.5 156.1 L385.0 161.2 L385.5 181.3 L386.0 181.3 L386.5 165.4 L387.0 164.0 L387.5 177.6 L388.0 181.3 L388.5 165.4 L388.5 150.0 L389.0 143.5 L389.6 150.0 L390.0 172.2 L390.5 168.7 L391.0 169.3 L391.5 182.0 L392.0 185.0 L392.7 200.0 L393.4 185.0 L394.0 183.3 L394.5 171.2 L395.0 170.9 L395.5 175.7 L396.0 179.9 L396.5 171.6 L397.0 165.2 L397.5 178.3 L398.0 179.0 L398.5 167.2 L399.0 171.0 L399.5 179.1 L400.0 186.3 L400.5 166.7 L401.0 165.9 L401.5 178.0 L402.0 183.3 L402.5 165.2 L403.0 170.6 L403.5 181.8 L404.0 180.3 L404.5 169.3 L405.0 168.0 L405.5 180.0 L406.0 179.7 L406.5 166.8 L407.0 167.8 L407.5 179.3 L408.0 179.0 L408.5 168.7 L409.0 158.7 L409.5 178.7 L410.0 178.3 L410.5 167.8 L411.0 167.5 L411.5 177.8 L412.0 177.2 L412.5 166.4 L413.0 167.5 L413.5 176.5 L414.0 172.0 L414.5 164.1 L415.0 163.4 L415.5 171.4 L416.0 174.6 L416.5 154.3 L417.0 153.9 L417.5 174.2 L418.0 173.5 L418.5 153.7 L419.0 153.7 L419.5 172.9 L420.0 170.2 L420.5 153.7 L421.0 163.3 L421.5 170.6 L422.0 171.0 L422.5 164.8 L423.0 165.2 L423.5 169.6 L424.0 170.0 L424.5 165.6 L425.0 154.8 L425.5 170.2 L426.0 170.2 L426.5 155.0 L427.0 155.2 L427.5 168.7 L428.0 168.9 L428.5 155.3 L429.0 156.4 L429.5 169.1 L430.0 169.2 L430.5 155.7 L431.0 155.2 L431.5 169.1 L432.0 170.1 L432.5 154.7 L433.0 154.2 L433.5 170.2 L434.0 169.1 L434.5 153.7 L435.0 153.2 L435.5 170.4 L436.0 175.3 L436.5 164.7 L437.0 153.2 L437.5 175.3 L438.0 175.3 L438.5 153.2 L439.0 153.2 L439.5 175.3 L440.0 174.3 L440.5 151.5 L441.0 149.7 L441.5 173.0 L442.0 170.8 L442.5 151.0 L443.0 152.3 L443.5 170.6 L444.0 170.4 L444.5 153.7 L445.0 161.9 L445.5 171.2 L446.0 171.1 L446.5 161.8 L447.0 162.4 L447.5 169.7 L448.0 172.3 L448.5 160.3 L449.0 159.3 L449.5 172.3 L450.0 165.3 L450.5 158.6 L451.0 159.3 L451.5 165.7 L452.0 166.0 L452.5 161.7 L453.0 161.4 L453.5 164.5 L454.0 172.3 L454.5 157.2 L455.0 158.2 L455.5 171.3 L456.0 169.4 L456.5 154.7 L457.0 154.7 L457.5 168.2 L458.0 168.5 L458.5 160.6 L459.5 160.0 L461.3 93.2 L462.5 130.0 L463.0 160.0 L463.5 178.0 L464.0 168.4 L464.5 151.7 L465.0 153.3 L465.5 176.0 L466.0 165.3 L466.5 155.0 L467.0 156.7 L467.5 167.9 L468.0 175.3 L468.5 161.9 L469.0 156.7 L469.5 174.9 L470.0 175.3 L470.5 163.7 L471.0 149.7 L471.5 167.3 L472.0 167.3 L472.5 148.8 L473.0 147.9 L473.5 167.3 L474.0 167.3 L474.5 147.0 L475.0 153.5 L475.5 167.3 L476.0 167.3 L476.5 153.7 L477.0 145.7 L477.5 167.5 L478.0 167.7 L478.5 153.9 L479.0 149.5 L479.5 167.8 L480.0 168.0 L480.5 147.9 L481.0 148.8 L481.5 158.4 L482.0 159.2 L482.5 156.4 L483.0 155.9 L483.5 161.3 L484.0 165.0 L484.5 156.6 L485.0 155.9 L485.5 168.2 L486.0 168.2 L486.5 156.0 L487.0 152.9 L487.5 164.3 L488.0 163.0 L488.5 152.1 L489.0 145.2 L489.5 163.1 L490.0 161.7 L490.5 145.2 L491.0 145.6 L491.5 163.2 L492.0 164.3 L492.5 157.9 L493.0 158.0 L493.5 160.6 L494.0 161.0 L494.5 158.4 L495.0 155.2 L495.5 160.3 L496.0 161.4 L496.5 157.0 L497.0 157.2 L497.5 162.0 L498.0 163.7 L498.5 157.5 L499.0 157.8 L499.5 164.3 L500.0 161.5 L500.5 159.9 L501.0 160.5 L501.5 162.1 L502.0 162.4 L502.5 159.4 L503.0 153.3 L503.5 162.2 L504.0 163.1 L504.5 155.4 L505.0 156.0 L505.5 163.7 L506.0 162.8 L506.5 153.3 L507.0 153.3 L507.5 162.3 L508.0 164.3 L508.5 153.3 L509.0 153.3 L509.5 158.8 L510.0 150.0 L510.6 143.6 L511.3 150.0 L512.0 162.3 L512.5 156.7 L513.0 160.1 L513.5 164.5 L514.0 168.3 L514.5 160.5 L515.0 160.4 L515.5 167.8 L516.0 166.7 L516.5 158.6 L517.0 155.2 L517.5 163.4 L518.0 164.7 L518.5 156.5 L519.0 155.5 L519.5 168.3 L520.0 168.0 L520.5 158.3 L521.0 161.5 L521.5 163.5 L522.0 163.6 L522.5 159.1 L523.0 162.8 L523.5 164.0 L524.0 164.6 L524.5 163.5 L525.0 157.9 L525.5 164.1 L526.0 168.3 L526.5 157.5 L527.0 158.0 L527.5 168.3 L528.0 169.3 L528.5 156.4 L529.0 158.8 L529.5 167.3 L530.0 169.0 L530.5 164.0 L531.0 163.7 L531.5 168.7 L532.0 165.7 L532.5 162.5 L533.0 163.2 L533.5 166.4 L534.0 166.8 L534.5 163.6 L535.0 162.9 L535.5 169.9 L536.0 167.5 L536.5 163.5 L537.0 166.5 L537.5 167.8 L538.0 167.6 L538.5 162.3 L539.0 163.8 L539.5 169.9 L540.0 167.8 L540.5 164.2 L541.0 164.1 L541.5 168.0 L542.0 169.9 L542.5 164.0 L543.0 163.8 L543.5 169.9 L544.0 169.9 L544.5 164.0 L545.0 164.1 L545.5 169.9 L546.0 168.2 L546.5 163.5 L547.0 163.3 L547.5 169.8 L548.0 169.4 L548.5 164.5 L549.0 164.4 L549.5 167.5 L550.0 168.5 L550.5 162.3 L551.0 164.0 L551.5 168.1 L552.0 169.7 L552.5 165.3 L553.0 165.7 L553.5 169.6 L554.0 169.5 L554.5 165.9 L555.0 165.6 L555.5 168.2 L555.8 160.0 L556.6 111.8 L558.4 112.8 L559.0 160.0 L559.3 175.0 L559.5 176.8 L560.0 169.3 L560.5 170.3 L561.0 175.7 L561.5 182.1 L562.0 170.6 L562.5 171.4 L563.0 176.6 L563.5 176.8 L564.0 171.6 L564.5 168.7 L565.0 181.8 L565.5 176.7 L566.0 172.9 L566.5 173.2 L567.0 181.6 L567.5 177.9 L568.0 169.5 L568.5 159.7 L569.0 173.9 L569.5 169.0 L570.0 159.7 L570.5 159.7 L571.0 173.6 L571.5 174.3 L572.0 159.7 L572.5 159.7 L573.0 169.4 L573.5 169.0 L574.0 159.7 L574.5 160.4 L575.0 167.8 L575.4 160.0 L575.8 155.4 L576.3 160.0 L577.0 167.9 L577.5 162.7 L578.0 162.7 L578.5 171.2 L579.0 173.3 L579.5 162.8 L580.0 163.0 L580.5 173.3 L581.0 171.8 L581.5 169.7 L582.0 169.7 L582.5 171.7 L583.0 174.3 L583.5 170.6 L584.0 170.4 L584.5 171.9 L585.0 172.0 L585.5 170.4 L586.0 169.7 L586.5 172.3 L587.0 172.1 L587.5 169.7 L588.0 171.7 L588.5 175.6 L589.0 173.7 L589.5 171.7 L590.0 171.7 L590.5 176.3 L591.0 176.3 L591.5 171.7 L592.0 171.7 L592.5 176.3 L593.0 173.6 L593.5 171.7 L594.0 171.7 L594.5 174.1 L595.0 174.3 L595.5 171.7 L596.0 171.7 L596.5 174.2 L597.0 174.1 L597.5 171.7 L598.0 173.2 L598.5 175.9 L599.0 176.7 L599.5 173.2 L600.0 173.7 L600.5 176.2 L601.0 177.3 L601.5 174.3 L602.0 174.5 L602.5 177.6 L603.0 178.2 L603.5 174.1 L604.0 173.2 L604.5 178.2 L605.0 178.2 L605.5 173.2 L606.0 165.0 L606.5 161.7 L607.0 165.0 L608.0 177.7 L608.5 173.4 L609.0 173.2 L609.5 178.0 L610.0 177.6 L610.5 174.3 L611.0 173.2 L611.5 177.0 L612.0 176.7 L612.5 173.2 L613.0 173.2 L613.5 178.2 L614.0 177.6 L614.5 173.2 L615.0 177.7 L615.5 181.5 L616.0 181.3 L616.5 179.2 L617.0 177.7 L617.5 181.5 L618.0 181.2 L618.5 177.7 L619.0 177.7 L619.5 180.5 L620.0 181.8 L620.5 177.8 L621.0 177.9 L621.5 180.1 L622.0 180.8 L622.5 178.0 L623.0 178.0 L623.5 180.7 L624.0 181.2 L624.5 178.5 L625.0 179.9 L625.5 180.4 L626.0 180.3 L626.5 179.5 L627.0 180.1 L627.5 180.9 L628.0 180.3 L628.5 179.2 L629.0 179.4 L629.5 179.6 L630.0 181.8 L630.5 179.0 L631.0 176.8 L631.5 177.5 L632.0 179.7 L632.5 177.4 L633.0 177.6 L633.5 179.9 L634.0 179.9 L634.5 177.5 L635.0 177.5 L635.5 179.9 L636.0 185.0 L636.5 184.0 L637.0 183.2 L637.5 185.0 L638.0 184.7 L638.5 183.2 L639.0 183.2 L639.5 185.0 L640.0 184.4 L640.5 184.2 L641.0 187.5 L660.0 187.9 L666.0 188.5 L676.0 191.0 L682.0 192.5 L690.0 193.5 L709.0 197.0 L711.0 197.0 L711.8 170.0 L712.7 96.8 L714.5 150.0 L716.0 200.0 L717.4 219.6 L719.0 210.0 L721.0 195.0 L724.0 185.0 L727.3 182.5 L728.2 177.1 L730.0 181.0 L733.0 186.1 L738.0 197.0 L738.0 198.4 L738.5 198.2 L739.0 198.1 L739.5 198.2 L740.0 198.4 L740.5 197.7 L741.0 198.0 L741.5 198.7 L742.0 199.2 L742.5 198.2 L743.0 198.3 L743.5 199.2 L744.0 199.3 L744.5 197.4 L745.0 198.6 L745.5 199.3 L746.0 199.3 L746.5 197.7 L747.0 200.7 L747.5 203.3 L748.0 202.9 L748.5 202.0 L749.0 202.1 L749.5 203.2 L750.0 203.5 L750.5 202.3 L751.0 201.3 L751.5 203.8 L752.0 203.8 L752.5 201.9 L753.0 202.4 L753.5 203.8 L754.0 207.3 L754.5 197.4 L755.0 196.7 L755.5 207.6 L756.0 208.2 L756.5 196.7 L757.0 196.7 L757.5 208.8 L758.0 209.3 L758.5 204.1 L759.0 196.7 L759.5 209.8 L760.0 209.2 L760.5 201.7 L761.0 201.1 L761.5 208.6 L762.0 208.1 L762.5 200.3 L763.0 199.7 L763.5 207.5 L764.0 205.4 L764.5 202.5 L765.0 197.3 L765.5 205.0 L766.0 205.0 L766.5 197.4 L767.0 201.7 L767.5 203.5 L768.0 204.8 L768.5 201.4 L769.0 201.2 L769.5 204.7 L770.0 203.9 L770.5 197.5 L771.0 197.4 L771.5 204.2 L772.0 202.6 L772.5 197.3 L773.0 197.2 L773.5 203.5 L774.0 200.4 L774.5 197.1 L775.0 197.0 L775.5 200.0 L776.0 200.4 L776.5 199.7 L777.0 198.8 L777.5 202.7 L778.0 203.2 L778.5 199.4 L779.0 197.2 L779.5 203.2 L780.0 190.0 L781.0 148.6 L782.0 190.0 L783.0 208.3 L783.5 192.9 L784.0 195.2 L784.5 211.2 L785.0 214.1 L785.5 198.7 L786.0 203.8 L786.5 217.0 L787.0 212.2 L787.5 203.0 L788.0 202.0 L788.5 217.0 L789.0 212.3 L789.5 194.0 L790.0 194.7 L790.5 211.8 L791.0 212.7 L791.5 195.0 L792.0 195.9 L792.5 213.5 L793.0 214.4 L793.5 195.7 L794.0 199.2 L794.5 210.8 L795.0 205.6 L795.5 198.6 L796.0 195.7 L796.5 204.0 L797.0 203.0 L797.5 195.7 L798.0 195.7 L798.5 204.5 L799.0 204.5 L799.5 195.7 L800.0 197.1 L800.5 207.8 L801.0 207.8 L801.5 196.6 L802.0 195.7 L802.5 207.8 L803.0 202.7 L803.5 195.7 L804.0 200.6 L804.5 203.5 L805.0 202.1 L805.5 200.7 L806.0 201.1 L806.5 204.0 L807.0 207.3 L807.5 200.2 L808.0 201.6 L808.5 209.5 L809.0 208.8 L809.5 201.5 L810.0 202.4 L810.5 209.6 L811.0 209.5 L811.5 202.1 L812.0 201.6 L812.5 210.9 L813.0 211.2 L813.5 204.1 L814.0 204.6 L814.5 211.3 L815.0 207.2 L815.5 204.9 L816.0 203.2 L816.5 210.2 L817.0 209.5 L817.5 202.5 L818.0 203.1 L818.5 210.1 L819.0 209.5 L819.5 202.5 L820.0 201.5 L820.5 210.6 L821.0 209.8 L821.5 199.7 L822.0 200.9 L822.5 212.7 L823.0 212.8 L823.5 200.8 L824.0 203.4 L824.5 213.0 L825.0 211.7 L825.5 198.1 L826.0 186.0 L826.5 213.2 L827.0 203.2 L827.5 186.0 L828.0 187.0 L828.5 202.7 L829.0 210.3 L829.5 195.5 L830.0 192.0 L830.5 207.3 L831.0 203.8 L831.5 189.6 L832.0 196.5 L832.5 203.8 L833.0 197.6 L833.5 189.4 L834.0 191.2 L834.5 198.9 L835.0 197.6 L835.5 195.3 L836.0 192.7 L836.5 194.9 L837.0 194.5 L837.5 191.7 L838.0 193.5 L838.5 194.2 L839.0 194.6 L839.5 193.9 L840.0 193.5 L840.5 194.2 L841.0 194.4 L841.5 191.9 L842.0 193.5 L842.5 195.6 L843.0 195.6 L843.5 192.6 L844.0 193.0 L844.5 197.3 L845.0 197.3 L845.5 192.6 L846.0 188.0 L846.5 193.3 L847.0 193.3 L847.5 184.7 L848.0 184.7 L848.5 193.3 L849.0 193.3 L849.5 188.1 L850.0 184.7 L850.5 193.3 L851.0 193.3 L851.5 184.7 L852.0 184.7 L852.5 189.7 L852.5 178.0 L853.0 173.0 L853.5 178.0 L854.0 190.2 L854.5 184.7 L855.0 183.2 L855.5 190.0 L856.0 189.1 L856.5 185.8 L857.0 184.6 L857.5 193.6 L858.0 192.5 L858.5 183.4 L859.0 178.6 L859.5 187.1 L860.0 190.3 L860.5 178.0 L861.0 176.9 L861.5 190.3 L862.0 184.2 L862.5 176.7 L863.0 176.7 L863.5 183.8 L864.0 184.1 L864.5 176.7 L865.0 179.7 L865.5 184.1 L866.0 184.2 L866.5 177.3 L867.0 161.8 L867.5 168.7 L868.0 167.7 L868.5 162.8 L869.0 156.9 L869.5 188.3 L870.0 188.3 L870.5 154.4 L871.0 148.1 L871.5 188.3 L872.0 167.2 L872.5 149.7 L873.0 147.7 L873.5 161.8 L874.0 164.1 L874.5 162.7 L875.0 163.6 L875.5 180.5 L875.6 150.0 L876.4 103.6 L877.2 160.0 L878.0 188.5 L878.5 171.6 L879.0 159.7 L879.5 189.9 L880.0 177.6 L880.5 159.7 L881.0 166.2 L881.5 205.3 L882.0 189.8 L882.5 172.7 L883.0 170.4 L883.5 188.6 L884.0 185.2 L884.5 168.2 L885.0 165.9 L885.5 177.4 L886.0 172.7 L886.5 163.7 L887.0 164.5 L887.5 173.3 L888.0 173.8 L888.5 169.6 L889.0 167.9 L889.5 174.3 L890.0 174.9 L890.5 168.4 L891.0 172.0 L891.5 175.9 L892.0 177.1 L892.5 173.6 L893.0 169.0 L893.5 176.9 L894.0 178.3 L894.5 169.7 L895.0 170.3 L895.5 177.0 L896.0 180.7 L896.5 171.0 L897.0 171.7 L897.5 180.3 L898.0 182.3 L898.5 176.2 L899.0 176.3 L899.5 178.0 L900.0 178.0 L900.5 176.3 L901.0 174.2 L901.5 177.2 L902.0 177.6 L902.5 173.2 L903.0 173.6 L903.5 178.0 L904.0 181.4 L904.5 174.4 L905.0 170.8 L905.5 181.7 L906.0 178.2 L906.5 169.1 L907.0 169.3 L907.5 182.0 L908.0 177.6 L908.5 168.6 L909.0 168.8 L909.5 177.9 L910.0 184.3 L910.5 163.7 L911.0 164.5 L911.5 179.6 L912.0 177.1 L912.5 162.7 L913.0 162.3 L913.5 177.1 L914.0 178.5 L914.5 162.0 L915.0 161.7 L915.5 176.5 L916.0 160.0 L916.5 156.7 L917.0 160.0 L918.0 178.9 L918.5 166.7 L919.0 167.7 L919.5 182.7 L920.0 182.0 L920.5 168.7 L921.0 169.7 L921.5 180.7 L922.0 179.5 L922.5 171.9 L922.5 155.0 L923.0 148.6 L923.5 155.0 L925.0 181.3 L925.5 162.9 L926.0 163.1 L926.5 180.7 L927.0 173.5 L927.5 167.5 L928.0 171.1 L928.5 179.3 L929.0 178.8 L929.5 171.2 L930.0 169.3 L930.5 178.3 L931.0 178.3 L931.5 166.8 L932.0 172.0 L932.5 174.0 L933.0 173.2 L933.5 172.4 L934.0 171.9 L934.5 173.3 L935.0 172.9 L935.5 168.9 L936.0 169.5 L936.5 178.1 L937.0 173.0 L937.5 169.9 L938.0 164.2 L938.5 171.6 L939.0 172.0 L939.5 164.6 L940.0 164.3 L940.5 171.7 L941.0 171.5 L941.5 168.7 L942.0 167.7 L942.5 171.1 L943.0 171.4 L943.5 168.0 L944.0 169.4 L944.5 170.2 L945.0 169.8 L945.5 168.9 L946.0 168.6 L946.5 174.3 L947.0 179.7 L947.5 153.3 L948.0 151.7 L948.5 180.3 L949.0 180.3 L949.5 151.7 L950.0 151.7 L950.5 174.5 L951.0 148.0 L951.5 144.9 L952.0 150.0 L953.0 177.1 L953.5 153.7 L954.0 153.2 L954.5 176.9 L955.0 175.2 L955.5 152.8 L956.0 152.5 L956.5 183.7 L957.0 183.9 L957.5 152.1 L958.0 167.2 L958.5 183.0 L959.0 181.9 L959.5 166.1 L960.0 156.7 L960.5 183.1 L961.0 186.2 L961.5 154.7 L962.0 152.8 L962.5 184.3 L963.2 150.0 L963.2 126.5 L964.5 160.0 L965.5 126.5 L966.5 110.8 L967.5 126.5 L968.5 160.0 L969.6 126.5 L970.0 150.0 L970.2 179.2 L970.7 152.9 L971.0 190.0 L972.0 207.4 L973.0 190.0 L974.0 181.3 L974.5 159.7 L975.0 159.7 L975.5 181.3 L976.0 179.0 L976.5 159.7 L977.0 159.7 L977.5 181.3 L978.0 170.5 L978.5 169.3 L979.0 167.4 L979.5 168.5 L980.0 171.0 L980.5 169.9 L981.0 168.1 L981.5 181.3 L982.0 181.3 L982.5 167.3 L983.0 166.7 L983.5 181.3 L984.0 181.3 L984.5 159.7 L985.0 159.7 L985.5 181.3 L986.0 164.3 L986.5 149.7 L987.0 155.8 L987.5 164.3 L988.0 161.1 L988.5 152.2 L989.0 156.5 L989.5 164.3 L990.0 164.3 L990.5 149.7 L991.0 149.7 L991.5 159.1 L992.0 159.7 L992.5 149.7 L993.0 153.2 L993.5 159.7 L994.0 162.4 L994.5 150.6 L995.0 158.0 L995.5 161.8 L996.0 161.1 L996.5 157.3 L997.0 157.5 L997.5 164.1 L998.0 164.3 L998.5 154.5 L999.0 159.1 L999.5 169.0 L1000.0 167.9 L1000.5 157.7 L1001.0 159.2 L1001.5 166.8 L1002.0 165.7 L1002.5 158.6 L1003.0 154.7 L1003.5 164.6 L1004.0 163.5 L1004.5 159.3 L1005.0 158.7 L1005.5 159.6 L1006.0 161.3 L1006.5 160.4 L1007.0 162.0 L1007.5 166.3 L1008.0 163.3 L1008.5 163.2 L1009.0 167.7 L1009.5 169.2 L1010.0 169.3 L1010.5 164.7 L1011.0 161.2 L1011.5 169.5 L1012.0 166.3 L1012.5 156.7 L1013.0 160.2 L1013.5 162.2 L1014.0 160.6 L1014.5 158.8 L1015.0 156.7 L1015.5 162.7 L1016.0 161.8 L1016.5 155.2 L1017.0 151.5 L1017.5 160.3 L1018.0 140.0 L1019.3 160.0 L1020.3 124.0 L1021.3 155.0 L1022.3 118.0 L1023.3 150.0 L1024.3 119.0 L1025.2 160.0 L1026.0 126.0 L1026.6 150.0 L1027.0 160.0 L1028.4 201.0 L1029.8 170.0 L1030.5 175.0 L1032.0 160.0 L1033.0 175.0 L1034.0 140.0 L1035.0 160.0 L1036.0 126.0 L1037.0 145.0 L1038.0 124.3 L1039.5 124.3 L1040.5 145.0 L1041.5 129.0 L1042.5 150.0 L1043.5 132.0 L1044.5 152.0 L1045.5 138.0 L1046.5 156.0 L1047.0 158.3 L1047.5 153.5 L1048.0 155.7 L1048.5 163.3 L1049.0 165.7 L1049.5 154.9 L1050.0 159.7 L1050.5 164.2 L1051.0 167.9 L1051.5 159.1 L1052.0 159.1 L1052.5 167.9 L1053.0 150.0 L1053.5 143.4 L1054.0 150.0 L1055.0 167.9 L1055.5 158.6 L1056.0 157.1 L1056.5 166.4 L1057.0 164.9 L1057.5 157.9 L1058.0 156.0 L1058.5 163.3 L1059.0 160.0 L1060.0 135.0 L1060.8 150.0 L1061.6 122.5 L1062.6 123.5 L1063.5 145.0 L1064.5 131.0 L1065.5 155.0 L1066.5 138.0 L1067.5 160.0 L1068.5 143.0 L1069.5 165.0 L1070.0 168.3 L1070.5 155.2 L1071.0 150.3 L1071.5 159.4 L1072.0 150.0 L1072.5 144.3 L1073.0 150.0 L1074.0 164.5 L1074.5 154.7 L1075.0 154.7 L1075.5 176.5 L1076.0 176.6 L1076.5 154.7 L1077.0 154.7 L1077.5 164.5 L1078.0 164.4 L1078.5 154.7 L1079.0 154.7 L1079.5 177.0 L1080.0 150.0 L1080.5 143.4 L1081.0 150.0 L1082.0 178.8 L1082.5 153.2 L1083.0 164.5 L1083.5 173.9 L1084.0 175.6 L1084.5 166.2 L1085.0 167.0 L1085.5 178.8 L1086.0 167.7 L1086.5 163.5 L1087.0 166.1 L1087.5 170.3 L1088.0 178.8 L1088.5 168.9 L1089.0 155.5 L1089.5 174.3 L1090.0 174.3 L1090.5 155.6 L1091.0 154.5 L1091.5 169.4 L1092.0 169.5 L1092.5 154.3 L1093.0 154.6 L1093.5 174.3 L1094.0 174.3 L1094.5 154.8 L1095.0 165.7 L1095.5 174.3 L1096.0 167.9 L1096.5 155.3 L1097.0 164.1 L1097.5 168.1 L1098.0 167.4 L1098.5 163.5 L1099.0 163.4 L1099.5 167.3 L1100.0 167.8 L1100.5 166.2 L1101.0 159.3 L1101.5 174.3 L1102.0 174.3 L1102.5 162.4 L1103.0 154.2 L1103.5 175.0 L1104.0 166.4 L1104.5 151.7 L1105.0 150.7 L1105.5 174.1 L1106.0 178.3 L1106.5 149.7 L1106.5 150.0 L1107.0 145.4 L1107.5 150.0 L1108.0 178.3 L1108.5 168.7 L1109.0 169.3 L1109.5 178.3 L1110.0 178.3 L1110.5 170.4 L1111.0 170.1 L1111.5 178.3 L1112.0 178.3 L1112.5 169.8 L1113.0 171.1 L1113.5 177.4 L1114.0 176.8 L1114.5 170.6 L1115.0 168.9 L1115.5 176.4 L1116.0 176.3 L1116.5 168.8 L1116.3 160.0 L1116.8 156.3 L1117.3 160.0 L1118.0 174.1 L1118.5 165.8 L1119.0 170.4 L1119.5 174.9 L1120.0 175.5 L1120.5 172.0 L1121.0 170.8 L1121.5 178.9 L1122.0 179.1 L1122.5 170.9 L1123.0 167.0 L1123.5 175.5 L1124.0 179.4 L1124.5 170.5 L1125.0 165.2 L1125.5 179.6 L1126.0 174.7 L1126.5 170.1 L1127.0 169.4 L1127.5 175.6 L1127.5 158.0 L1128.0 154.5 L1128.5 158.0 L1129.0 184.6 L1129.5 165.2 L1130.0 170.4 L1130.5 189.6 L1131.0 190.3 L1131.5 165.2 L1132.0 165.2 L1132.5 191.1 L1132.5 155.0 L1133.0 151.7 L1133.5 155.0 L1135.0 183.3 L1135.5 172.9 L1136.0 172.5 L1136.5 180.5 L1137.0 179.9 L1137.5 171.9 L1138.0 171.3 L1138.5 184.4 L1139.0 176.7 L1139.5 172.3 L1140.0 175.1 L1140.5 177.6 L1141.0 178.3 L1141.5 175.9 L1142.0 170.9 L1142.5 185.8 L1143.0 185.0 L1143.5 175.6 L1144.0 178.5 L1144.5 186.5 L1145.0 186.8 L1145.5 174.1 L1146.0 174.5 L1146.5 187.2 L1146.5 155.0 L1147.0 151.7 L1147.5 155.0 L1149.0 195.4 L1149.5 181.3 L1150.0 184.5 L1150.5 193.6 L1151.0 197.6 L1151.5 184.9 L1152.0 170.6 L1152.5 186.4 L1153.0 184.5 L1153.5 180.2 L1154.0 170.6 L1154.5 184.5 L1155.0 191.1 L1155.5 170.6 L1156.0 170.6 L1156.5 181.8 L1157.0 183.5 L1157.5 170.6 L1158.0 170.6 L1158.5 185.1 L1159.0 190.4 L1159.5 170.6 L1160.0 170.6 L1160.5 192.5 L1161.0 188.0 L1161.5 170.6 L1161.5 158.0 L1162.0 155.4 L1162.5 158.0 L1164.0 196.3 L1164.5 168.8 L1165.0 176.6 L1165.5 196.3 L1166.0 196.3 L1166.5 168.9 L1167.0 167.5 L1167.5 196.3 L1168.0 196.3 L1168.5 166.7 L1169.0 166.9 L1169.5 196.3 L1169.8 190.0 L1170.7 302.0 L1171.8 260.0 L1172.5 240.0 L1174.0 200.0 L1175.9 160.8 L1178.0 165.0 L1180.0 170.0 L1182.0 180.0 L1183.5 185.2 L1185.0 194.2 L1188.6 194.2 L1190.4 192.0 L1194.0 187.0 L1196.0 186.8 L1201.0 186.8 L1213.0 186.8 L1215.0 188.5 L1230.0 189.0 L1240.0 190.0 L1258.0 191.0 L1260.0 191.0 L1260.0 199.0 L1260.5 194.0 L1261.0 184.5 L1261.5 200.3 L1262.0 200.0 L1262.5 228.0 L1263.0 200.0 L1263.5 193.7 L1264.0 177.9 L1264.5 191.4 L1265.0 192.4 L1264.8 170.0 L1265.3 155.5 L1265.8 170.0 L1266.5 201.3 L1267.0 163.7 L1267.5 186.8 L1268.0 195.7 L1268.5 200.1 L1269.0 187.4 L1269.5 171.7 L1270.0 210.3 L1270.5 187.8 L1271.0 169.7 L1271.5 170.3 L1272.0 186.3 L1272.5 170.0 L1273.0 156.7 L1273.5 170.0 L1274.0 184.8 L1274.5 168.9 L1275.0 169.5 L1275.5 185.4 L1276.0 185.5 L1276.5 170.0 L1277.0 171.7 L1277.5 194.3 L1278.0 200.0 L1278.8 229.0 L1279.5 200.0 L1280.0 198.7 L1280.5 179.7 L1281.0 179.7 L1281.5 198.7 L1282.0 191.4 L1282.5 179.7 L1283.0 191.2 L1283.5 210.3 L1284.0 197.5 L1284.5 179.7 L1285.0 187.8 L1285.5 194.9 L1286.0 206.0 L1286.5 185.3 L1286.5 200.0 L1287.2 220.5 L1287.8 200.0 L1288.5 202.2 L1289.0 172.7 L1289.5 172.7 L1290.0 209.0 L1290.5 207.7 L1291.0 184.6 L1291.5 179.1 L1292.0 197.4 L1292.5 198.5 L1293.0 180.3 L1293.5 183.5 L1294.0 203.4 L1294.5 208.6 L1295.0 183.1 L1295.5 176.9 L1296.0 209.8 L1296.5 210.1 L1297.0 174.8 L1297.5 175.1 L1298.0 209.6 L1298.5 209.1 L1299.0 177.1 L1299.5 168.5 L1300.0 202.9 L1300.5 200.8 L1301.0 167.7 L1301.5 167.7 L1302.0 199.6 L1302.5 203.1 L1303.0 186.7 L1303.5 187.7 L1304.0 194.7 L1304.5 193.4 L1305.0 186.4 L1305.5 172.2 L1306.0 200.2 L1306.5 199.4 L1307.0 179.8 L1307.5 183.3 L1308.0 202.9 L1308.5 202.8 L1309.0 183.2 L1309.5 184.9 L1310.0 202.3 L1310.5 204.9 L1311.0 187.6 L1311.5 182.6 L1312.0 208.6 L1312.5 213.8 L1313.0 182.6 L1313.5 201.6 L1314.0 213.2 L1314.5 212.6 L1315.0 198.9 L1315.5 200.0 L1316.2 221.7 L1316.8 200.0 L1317.5 206.6 L1318.0 191.9 L1318.5 173.5 L1319.0 202.9 L1319.5 203.7 L1320.0 174.3 L1320.5 166.5 L1321.0 197.6 L1321.5 211.3 L1322.0 161.0 L1322.5 151.7 L1323.0 209.6 L1323.0 150.0 L1323.7 143.4 L1324.4 150.0 L1325.0 211.2 L1325.5 156.7 L1326.0 178.2 L1326.5 216.7 L1327.0 220.0 L1327.5 178.6 L1328.0 180.1 L1328.5 209.4 L1329.0 204.9 L1329.5 165.0 L1330.0 166.7 L1330.5 200.8 L1331.0 203.4 L1331.5 187.8 L1332.0 189.4 L1332.5 192.3 L1333.0 195.2 L1333.5 192.3 L1334.0 202.5 L1338.0 204.9 L1345.0 199.0 L1351.5 191.6" stroke="#0f7d40"/><path d="M72.3 155.0 L73.9 161.8 L75.8 168.5 L77.7 171.4 L80.6 169.5 L83.5 168.5 L86.4 171.4 L88.3 167.6 L91.2 160.8 L93.1 160.0 L95.0 158.9 L97.9 161.8 L99.9 165.6 L101.8 165.9 L103.7 165.6 L106.6 166.6 L108.5 168.5 L110.5 170.4 L112.4 171.4 L114.3 174.0 L116.2 175.3 L119.1 177.2 L121.1 174.3 L123.9 165.6 L126.8 167.6 L128.8 171.4 L130.7 174.3 L132.6 169.5 L134.6 168.9 L136.5 167.6 L138.1 167.5 L139.7 165.6 L141.3 165.6 L144.2 168.5 L147.1 171.4 L150.0 173.9 L151.8 175.7 L153.6 177.5 L155.4 176.8 L157.2 174.8 L159.0 174.1 L160.8 173.0 L162.7 174.0 L164.5 173.9 L167.2 172.0 L169.9 180.2 L172.6 187.4 L174.8 186.4 L177.1 186.5 L178.9 185.6 L180.7 184.7 L182.5 183.4 L184.3 183.0 L186.1 182.0 L187.9 181.2 L189.8 180.2 L191.6 178.2 L193.4 177.5 L195.2 174.9 L197.0 173.0 L199.2 170.4 L201.5 168.4 L204.2 172.0 L206.0 173.1 L207.8 173.0 L210.5 175.7 L212.3 176.1 L214.2 175.7 L216.0 175.7 L217.8 176.6 L219.6 178.8 L221.4 180.2 L223.2 181.9 L225.0 184.7 L226.8 182.2 L228.6 179.3 L231.3 178.4 L233.1 180.1 L234.9 182.9 L236.8 181.3 L238.6 181.1 L240.4 179.8 L242.2 177.5 L244.0 174.8 L245.8 173.0 L247.6 169.9 L249.4 167.5 L251.1 171.2 L252.7 173.5 L255.4 186.1 L257.2 183.9 L259.0 180.7 L261.3 179.1 L263.6 178.0 L265.9 176.4 L268.1 173.5 L269.9 171.8 L271.7 170.1 L273.5 168.1 L275.3 168.1 L277.1 169.0 L278.9 172.8 L280.7 175.3 L283.4 184.3 L285.7 188.2 L288.0 191.6 L289.8 193.5 L291.6 194.6 L293.4 195.2 L295.6 195.8 L297.9 197.0 L299.7 207.8 L302.4 206.0 L304.2 202.2 L306.0 198.8 L308.7 197.9 L311.0 201.0 L313.3 205.1 L315.1 203.1 L316.9 201.5 L318.7 200.6 L320.5 198.5 L322.3 197.1 L324.1 195.2 L325.9 192.3 L327.7 190.7 L329.5 190.9 L331.3 190.5 L333.1 190.7 L334.9 189.2 L336.8 188.7 L338.6 187.0 L340.4 182.5 L342.2 177.7 L344.0 173.5 L346.2 177.5 L348.5 181.6 L350.0 181.4 L351.8 179.9 L353.6 177.8 L355.4 176.6 L357.2 177.3 L359.0 176.0 L360.8 173.5 L362.7 172.7 L364.5 170.6 L367.2 165.2 L369.9 164.3 L372.1 161.6 L374.4 158.0 L377.1 161.6 L379.4 160.9 L381.6 161.6 L383.4 161.1 L385.2 159.8 L388.0 154.3 L389.8 159.8 L392.5 169.7 L394.3 170.0 L396.1 170.6 L397.9 168.0 L399.7 165.2 L401.5 160.5 L403.3 157.1 L406.0 163.4 L408.2 164.1 L410.5 166.1 L412.4 167.9 L414.2 170.6 L416.0 173.5 L417.8 175.1 L420.5 175.1 L422.3 171.5 L424.1 168.8 L425.9 166.0 L427.7 162.5 L430.4 165.2 L432.2 170.3 L434.0 174.2 L436.8 176.0 L439.5 172.4 L442.2 174.2 L444.9 179.6 L446.7 177.5 L448.5 174.2 L451.2 168.8 L453.1 168.6 L455.0 168.9 L456.8 170.0 L458.6 171.6 L460.4 173.4 L462.2 175.2 L464.0 175.1 L465.8 174.3 L467.6 173.3 L469.5 173.4 L471.3 171.5 L473.1 168.9 L474.9 173.4 L476.7 178.3 L478.5 182.4 L480.3 181.1 L482.1 178.8 L483.9 175.5 L485.7 173.4 L487.9 173.6 L490.2 172.5 L492.5 171.5 L494.8 171.6 L496.6 170.8 L498.4 170.6 L500.2 169.8 L502.0 169.9 L503.8 168.9 L505.6 168.2 L507.4 168.0 L509.2 168.9 L511.0 178.0 L512.8 186.0 L514.6 185.2 L516.4 184.2 L518.2 180.3 L520.1 177.0 L522.8 171.6 L524.6 172.7 L526.4 174.3 L529.1 173.4 L530.9 172.0 L532.7 171.6 L535.0 177.3 L537.2 184.2 L539.5 186.4 L541.8 189.6 L543.6 188.1 L545.4 186.0 L547.2 185.3 L549.0 183.3 L550.8 180.6 L552.6 178.8 L555.0 183.4 L556.8 181.8 L558.6 181.5 L560.4 181.3 L562.2 179.8 L564.0 180.7 L565.8 181.5 L567.6 180.1 L569.5 178.9 L571.3 177.6 L573.1 177.0 L574.9 173.1 L576.7 168.9 L578.5 167.1 L580.3 164.4 L582.1 165.2 L583.9 166.2 L585.7 163.8 L587.5 161.7 L589.3 158.8 L591.1 157.2 L593.4 155.5 L595.7 152.7 L597.5 153.4 L599.3 155.4 L601.1 155.8 L602.9 156.3 L604.7 156.8 L606.5 156.3 L609.2 154.5 L611.0 153.1 L612.8 152.7 L614.6 152.5 L616.4 151.7 L618.2 151.9 L620.1 150.8 L622.8 161.7 L625.5 165.3 L627.3 163.2 L629.1 160.8 L630.9 159.4 L632.7 157.2 L634.5 161.1 L636.3 166.2 L638.1 167.0 L640.0 168.0 L641.8 166.2 L643.6 165.3 L645.4 165.3 L647.2 164.4 L649.9 166.2 L652.6 173.4 L655.0 174.4 L656.8 178.2 L658.6 182.5 L660.4 182.9 L662.2 183.4 L664.9 186.1 L667.7 193.4 L670.4 195.2 L673.1 186.1 L675.8 179.8 L678.5 185.2 L680.3 186.3 L682.1 186.1 L683.9 184.8 L685.7 182.5 L688.0 185.4 L690.2 187.0 L692.0 188.3 L693.9 189.8 L695.7 190.7 L697.5 191.6 L699.3 192.8 L701.1 193.4 L702.9 191.1 L704.7 188.9 L707.4 186.1 L710.1 189.8 L712.8 196.1 L714.6 186.1 L717.4 188.0 L720.1 188.9 L721.9 190.7 L724.6 195.2 L727.3 197.9 L729.1 196.3 L730.9 195.2 L732.7 191.9 L734.5 188.9 L736.3 188.3 L738.0 188.4 L739.8 189.1 L741.6 188.3 L743.3 190.3 L745.0 191.1 L746.6 192.3 L748.3 193.6 L750.2 191.4 L752.2 189.6 L754.2 187.7 L756.2 186.9 L758.9 175.0 L760.2 188.3 L761.5 225.4 L763.5 224.0 L765.1 215.1 L766.8 206.8 L768.8 199.2 L770.8 190.9 L772.8 187.5 L774.8 183.0 L776.8 180.2 L778.7 177.7 L780.7 177.1 L782.7 175.7 L784.5 177.2 L786.2 178.2 L788.0 179.0 L790.0 179.5 L792.0 179.6 L793.8 180.6 L795.5 180.7 L797.3 181.6 L798.9 181.7 L800.6 181.0 L802.2 181.1 L803.9 181.0 L805.7 181.1 L807.4 180.8 L809.2 180.3 L811.0 179.8 L812.7 180.5 L814.5 179.6 L816.2 179.7 L817.9 179.4 L819.5 178.5 L821.2 179.0 L822.9 178.7 L824.5 178.0 L826.1 178.3 L827.8 177.7 L829.8 176.6 L831.8 175.7 L833.8 181.1 L835.7 185.6 L837.5 187.1 L839.2 188.7 L841.0 189.6 L843.0 189.4 L845.0 189.6 L846.8 189.1 L848.5 188.6 L850.3 187.6 L852.3 188.4 L854.3 188.3 L856.5 188.5 L858.6 189.2 L860.4 190.6 L862.2 191.0 L864.0 190.2 L865.8 188.3 L867.6 189.0 L869.5 189.2 L871.3 190.3 L873.1 190.1 L874.9 190.7 L876.7 190.1 L878.5 190.1 L880.3 192.4 L882.1 194.6 L883.9 196.0 L885.7 198.3 L887.5 196.9 L889.3 194.6 L891.1 196.1 L893.0 196.4 L894.8 195.9 L896.6 195.5 L898.4 194.9 L900.2 193.7 L902.0 193.1 L903.8 191.9 L905.6 191.3 L907.4 190.1 L909.2 188.7 L911.0 188.3 L912.8 187.8 L914.6 186.5 L917.4 187.4 L920.1 191.0 L921.9 193.8 L923.7 196.4 L925.5 198.0 L927.3 199.2 L929.1 200.0 L930.9 201.0 L932.7 202.1 L934.5 202.8 L936.3 202.3 L938.1 201.0 L940.0 200.7 L941.8 200.1 L943.6 201.3 L945.4 201.9 L948.1 204.6 L949.9 195.5 L952.6 185.6 L954.4 182.7 L956.2 181.1 L958.2 179.2 L960.1 178.3 L961.8 178.7 L963.4 179.4 L965.1 179.6 L966.8 180.5 L968.5 182.4 L970.2 183.4 L971.9 186.1 L973.5 187.8 L975.2 191.0 L976.9 189.3 L978.6 187.2 L980.3 185.9 L982.0 186.5 L983.7 187.9 L985.4 189.7 L987.1 189.9 L988.7 190.1 L990.4 191.0 L992.1 191.8 L993.8 192.9 L995.5 194.8 L997.2 195.6 L998.8 196.3 L1000.5 197.3 L1002.2 197.0 L1003.9 196.6 L1005.6 196.0 L1007.3 196.1 L1009.0 197.4 L1010.7 197.3 L1012.4 197.0 L1014.0 198.0 L1015.7 198.6 L1017.4 199.1 L1019.1 200.1 L1020.8 201.1 L1022.5 201.0 L1024.2 202.4 L1025.9 202.4 L1027.6 201.4 L1029.2 200.0 L1030.9 199.8 L1032.6 199.6 L1034.3 198.4 L1036.0 198.6 L1037.7 198.2 L1039.3 197.5 L1041.0 197.3 L1042.7 196.6 L1044.4 196.3 L1046.1 194.8 L1047.8 194.4 L1049.5 193.0 L1051.2 192.2 L1052.9 194.3 L1054.5 195.8 L1056.2 197.3 L1058.3 197.0 L1060.5 196.6 L1062.6 197.0 L1064.7 196.6 L1066.8 196.1 L1068.9 195.5 L1071.0 194.6 L1073.0 193.0 L1075.1 190.8 L1077.2 189.9 L1079.3 188.5 L1081.4 187.7 L1083.3 187.9 L1085.2 186.3 L1087.0 186.1 L1088.9 186.4 L1090.8 186.0 L1092.9 185.2 L1095.0 183.5 L1097.1 183.0 L1100.0 179.8 L1101.8 180.9 L1103.6 181.6 L1105.4 183.9 L1107.2 185.2 L1109.0 185.9 L1110.8 187.0 L1112.7 185.6 L1114.5 184.3 L1116.3 184.4 L1118.1 185.2 L1119.9 184.0 L1121.7 183.4 L1123.5 183.2 L1125.3 181.6 L1127.1 181.0 L1128.9 180.7 L1130.7 181.3 L1132.5 180.7 L1134.3 180.8 L1136.1 179.8 L1137.9 179.0 L1139.8 178.0 L1141.6 177.7 L1143.4 178.0 L1145.2 180.0 L1147.0 180.7 L1148.8 182.0 L1150.6 183.4 L1152.4 183.7 L1154.2 184.3 L1156.0 184.9 L1157.8 186.1 L1159.6 187.7 L1161.4 187.9 L1163.2 188.8 L1165.1 189.7 L1166.9 189.0 L1168.7 188.8 L1170.5 187.9 L1172.3 187.0 L1174.1 186.5 L1175.9 187.0 L1177.7 188.1 L1179.5 188.8 L1181.3 190.1 L1183.1 191.5 L1184.9 192.1 L1186.8 193.3 L1188.6 194.1 L1190.4 194.2 L1192.2 194.2 L1194.0 193.3 L1195.7 192.5 L1197.4 193.1 L1199.1 193.0 L1201.2 192.2 L1203.2 192.0 L1205.2 193.1 L1207.3 193.0 L1209.3 193.9 L1211.4 194.0 L1213.5 195.2 L1215.5 197.1 L1217.5 195.2 L1219.6 194.0 L1221.7 194.0 L1223.7 195.0 L1225.7 196.7 L1227.7 197.1 L1229.8 197.3 L1231.8 198.1 L1233.8 198.3 L1235.9 198.1 L1238.0 197.0 L1240.0 196.0 L1242.0 195.2 L1244.1 194.0 L1246.2 192.6 L1248.2 190.9 L1250.2 192.8 L1252.3 194.0 L1254.3 195.0 L1256.4 197.1 L1258.5 198.0 L1260.5 198.1 L1262.5 192.0 L1265.6 188.9 L1268.7 194.0 L1270.8 192.2 L1272.8 190.9 L1274.8 193.0 L1276.9 195.0 L1279.0 194.3 L1281.0 194.0 L1283.0 191.7 L1285.1 190.0 L1287.1 190.0 L1289.1 190.0 L1291.2 189.4 L1293.2 188.9 L1295.2 188.2 L1297.3 187.9 L1299.3 187.1 L1301.2 185.7 L1303.2 184.4 L1305.6 186.2 L1308.0 189.2 L1310.4 188.3 L1312.8 188.0 L1314.4 187.5 L1316.1 187.8 L1317.7 186.8 L1320.1 186.7 L1322.5 185.6 L1324.9 186.3 L1327.3 186.8 L1329.7 186.7 L1332.1 188.0 L1333.7 187.2 L1335.3 185.5 L1336.9 184.4 L1339.3 183.9 L1341.7 183.2 L1343.3 183.5 L1345.0 183.4 L1346.6 183.2 L1348.4 183.1 L1350.2 183.6 L1352.0 183.0" stroke="#ec1b22"/></g><rect x="71.8" y="11.5" width="1289.5" height="328.3" fill="none" stroke="#111" stroke-width="1.6"/><g font-family="Liberation Serif, serif" font-size="34" fill="#111"><text transform="translate(73.0,372.7) scale(0.92,1)" text-anchor="middle">0</text><text transform="translate(200.7,372.7) scale(0.92,1)" text-anchor="middle">1000</text><text transform="translate(329.7,372.7) scale(0.92,1)" text-anchor="middle">2000</text><text transform="translate(459.0,372.7) scale(0.92,1)" text-anchor="middle">3000</text><text transform="translate(588.4,372.7) scale(0.92,1)" text-anchor="middle">4000</text><text transform="translate(717.8,372.7) scale(0.92,1)" text-anchor="middle">5000</text><text transform="translate(845.4,372.7) scale(0.92,1)" text-anchor="middle">6000</text><text transform="translate(974.5,372.7) scale(0.92,1)" text-anchor="middle">7000</text><text transform="translate(1103.7,372.7) scale(0.92,1)" text-anchor="middle">8000</text><text transform="translate(1233.2,372.7) scale(0.92,1)" text-anchor="middle">9000</text><text transform="translate(1362.5,372.7) scale(0.92,1)" text-anchor="middle">10000</text><text transform="translate(66.0,21.8) scale(1.0,1)" text-anchor="end">2</text><text transform="translate(66.0,103.5) scale(1.0,1)" text-anchor="end">1</text><text transform="translate(66.0,185.3) scale(1.0,1)" text-anchor="end">0</text><text transform="translate(66.0,267.0) scale(1.0,1)" text-anchor="end">-1</text><text transform="translate(66.0,350.1) scale(1.0,1)" text-anchor="end">-2</text></g><g font-family="Liberation Serif, serif" font-size="33" fill="#111"><text transform="translate(714.4,408.7) scale(0.97,1)" text-anchor="middle">Time (s)</text><text transform="translate(22.8,173.6) rotate(-90) scale(1.02,1)" font-size="32" text-anchor="middle">Position Error (m)</text></g><rect x="728.5" y="20.3" width="622.7" height="50.400000000000006" fill="#fff" stroke="#333" stroke-width="1.2"/><line x1="740.2" y1="44.1" x2="808.2" y2="44.1" stroke="#162678" stroke-width="3"/><line x1="932.2" y1="44.1" x2="1000.8" y2="44.1" stroke="#007530" stroke-width="3"/><line x1="1150.2" y1="44.1" x2="1218.3" y2="44.1" stroke="#e81016" stroke-width="3"/><g font-family="Liberation Serif, serif" font-size="33" fill="#111"><text x="817" y="56" textLength="103" lengthAdjust="spacingAndGlyphs">Latitude</text><text x="1009.5" y="56" textLength="127" lengthAdjust="spacingAndGlyphs">Longitude</text><text x="1227" y="56" textLength="117" lengthAdjust="spacingAndGlyphs">Elevation</text></g></svg></body></html>
